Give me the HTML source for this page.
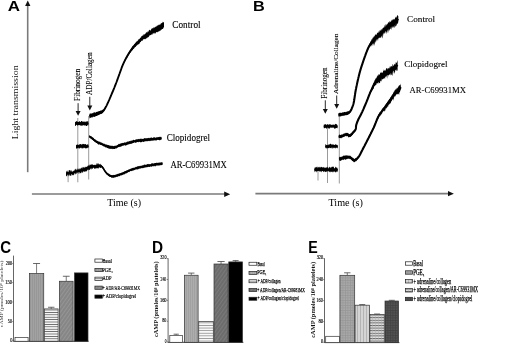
<!DOCTYPE html>
<html><head><meta charset="utf-8"><style>
html,body{margin:0;padding:0;background:#fff;overflow:hidden;}
svg{display:block;will-change:transform;filter:blur(0.3px);}
</style></head><body>
<svg width="520" height="345" viewBox="0 0 520 345">
<defs>
<pattern id="pv" width="2" height="4" patternUnits="userSpaceOnUse"><rect width="2" height="4" fill="#a2a2a2"/><rect width="0.7" height="4" fill="#939393"/></pattern>
<pattern id="pvD" width="2" height="4" patternUnits="userSpaceOnUse"><rect width="2" height="4" fill="#adadad"/><rect width="0.7" height="4" fill="#9c9c9c"/></pattern>
<pattern id="ph" width="4" height="2.4" patternUnits="userSpaceOnUse"><rect width="4" height="2.4" fill="#f6f6f6"/><rect y="0" width="4" height="0.8" fill="#5e5e5e"/></pattern>
<pattern id="phD" width="4" height="2.6" patternUnits="userSpaceOnUse"><rect width="4" height="2.6" fill="#f8f8f8"/><rect y="0" width="4" height="0.7" fill="#808080"/></pattern>
<pattern id="pd" width="3" height="3" patternUnits="userSpaceOnUse" patternTransform="rotate(35)"><rect width="3" height="3" fill="#868686"/><rect width="0.8" height="3" fill="#999"/></pattern>
<pattern id="pdD" width="3" height="3" patternUnits="userSpaceOnUse" patternTransform="rotate(35)"><rect width="3" height="3" fill="#6c6c6c"/><rect width="0.6" height="3" fill="#848484"/></pattern>
<pattern id="pgE" width="2.5" height="2.5" patternUnits="userSpaceOnUse"><rect width="2.5" height="2.5" fill="#a8a8a8"/><rect width="0.6" height="2.5" fill="#949494"/><rect width="2.5" height="0.6" fill="#949494"/></pattern>
<pattern id="pvE" width="3" height="4" patternUnits="userSpaceOnUse"><rect width="3" height="4" fill="#d4d4d4"/><rect width="0.8" height="4" fill="#acacac"/></pattern>
<pattern id="phE" width="3" height="2.6" patternUnits="userSpaceOnUse"><rect width="3" height="2.6" fill="#e0e0e0"/><rect width="3" height="1.0" fill="#6a6a6a"/><rect width="0.5" height="2.6" fill="#b0b0b0"/></pattern>
<pattern id="pkE" width="2.5" height="2.5" patternUnits="userSpaceOnUse"><rect width="2.5" height="2.5" fill="#525252"/><rect width="0.6" height="2.5" fill="#404040"/><rect width="2.5" height="0.6" fill="#404040"/></pattern>
</defs>
<rect width="520" height="345" fill="#fff"/>
<line x1="27.7" y1="5" x2="27.7" y2="172.2" stroke="#7a7a7a" stroke-width="1.6"/>
<path d="M25.1,6 L30.4,6 L27.75,0.4Z" fill="#111"/>
<line x1="31.9" y1="194" x2="225" y2="194" stroke="#7a7a7a" stroke-width="1.6"/>
<path d="M224.2,191.6 L224.2,196.9 L230.2,194.2Z" fill="#111"/>
<line x1="255.4" y1="193.6" x2="449" y2="193.6" stroke="#7a7a7a" stroke-width="1.6"/>
<path d="M448,191 L448,196.3 L453.9,193.7Z" fill="#111"/>
<line x1="68.1" y1="170" x2="68.1" y2="182.2" stroke="#9a9a9a" stroke-width="1.0"/>
<line x1="77.8" y1="118" x2="77.8" y2="182.3" stroke="#9a9a9a" stroke-width="1.0"/>
<line x1="88.7" y1="116" x2="88.7" y2="179.5" stroke="#9a9a9a" stroke-width="1.0"/>
<line x1="318" y1="168" x2="318" y2="180.5" stroke="#9a9a9a" stroke-width="1.0"/>
<line x1="327.5" y1="124" x2="327.5" y2="183" stroke="#9a9a9a" stroke-width="1.0"/>
<line x1="339.3" y1="113" x2="339.3" y2="183.5" stroke="#9a9a9a" stroke-width="1.0"/>
<line x1="78.1" y1="103.2" x2="78.1" y2="111.5" stroke="#111" stroke-width="0.9"/><path d="M75.6,111.0 L80.6,111.0 L78.1,115.8Z" fill="#111"/>
<line x1="89.8" y1="96.8" x2="89.8" y2="106.10000000000001" stroke="#111" stroke-width="0.9"/><path d="M87.3,105.60000000000001 L92.3,105.60000000000001 L89.8,110.4Z" fill="#111"/>
<line x1="325.3" y1="100.3" x2="325.3" y2="109.5" stroke="#111" stroke-width="0.9"/><path d="M322.8,109.0 L327.8,109.0 L325.3,113.8Z" fill="#111"/>
<line x1="336.7" y1="95.5" x2="336.7" y2="104.5" stroke="#111" stroke-width="0.9"/><path d="M334.2,104.0 L339.2,104.0 L336.7,108.8Z" fill="#111"/>
<path d="M75.00,123.60 L75.23,123.59 L75.51,123.57 L75.82,123.56 L76.18,123.54 L76.56,123.52 L76.98,123.49 L77.41,123.47 L77.87,123.44 L78.34,123.42 L78.81,123.40 L79.29,123.37 L79.77,123.35 L80.25,123.34 L80.71,123.32 L81.16,123.31 L81.59,123.30 L82.00,123.30 L82.43,123.30 L82.87,123.31 L83.33,123.32 L83.79,123.34 L84.26,123.36 L84.73,123.38 L85.19,123.41 L85.64,123.43 L86.08,123.46 L86.50,123.48 L86.89,123.51 L87.26,123.53 L87.60,123.55 L87.91,123.57 L88.18,123.59 L88.40,123.60" fill="none" stroke="#000" stroke-width="1.4" stroke-linejoin="round" stroke-linecap="butt"/><path d="M75.00,122.21 L75.23,122.03 L75.51,121.46 L75.82,122.32 L76.18,121.27 L76.56,121.31 L76.98,121.03 L77.41,121.51 L77.87,121.94 L78.34,121.91 L78.81,121.87 L79.29,121.53 L79.77,120.98 L80.25,121.88 L80.71,121.95 L81.16,121.11 L81.59,120.94 L82.00,121.28 L82.43,121.40 L82.87,121.77 L83.33,121.88 L83.79,121.20 L84.26,121.45 L84.73,121.63 L85.19,122.14 L85.64,121.40 L86.08,121.55 L86.50,121.53 L86.89,121.59 L87.26,121.69 L87.60,121.01 L87.91,121.22 L88.18,121.26 L88.40,121.80 L88.40,124.88 L88.18,125.51 L87.91,126.01 L87.60,124.76 L87.26,125.11 L86.89,126.04 L86.50,125.89 L86.08,126.03 L85.64,125.18 L85.19,125.59 L84.73,125.27 L84.26,125.65 L83.79,125.06 L83.33,125.29 L82.87,125.63 L82.43,125.33 L82.00,125.74 L81.59,125.44 L81.16,125.82 L80.71,124.99 L80.25,125.93 L79.77,125.33 L79.29,124.98 L78.81,124.92 L78.34,125.23 L77.87,125.23 L77.41,125.98 L76.98,124.73 L76.56,125.04 L76.18,124.74 L75.82,125.93 L75.51,125.88 L75.23,125.48 L75.00,125.99Z" fill="#000"/>
<path d="M89.40,116.00 L89.63,115.94 L89.91,115.86 L90.23,115.77 L90.60,115.67 L90.99,115.57 L91.42,115.45 L91.86,115.33 L92.32,115.21 L92.78,115.08 L93.25,114.94 L93.72,114.81 L94.17,114.68 L94.60,114.55 L95.02,114.42 L95.40,114.30 L95.82,114.16 L96.24,114.02 L96.66,113.87 L97.08,113.72 L97.49,113.57 L97.89,113.42 L98.28,113.27 L98.67,113.12 L99.04,112.97 L99.40,112.82 L99.75,112.68 L100.08,112.54 L100.40,112.40 L100.87,112.20 L101.30,112.04 L101.69,111.88 L102.06,111.73 L102.40,111.56 L102.73,111.36 L103.06,111.11 L103.40,110.80 L103.65,110.53 L103.88,110.24 L104.12,109.92 L104.34,109.58 L104.56,109.22 L104.79,108.85 L105.00,108.46 L105.22,108.06 L105.45,107.64 L105.67,107.23 L105.90,106.80 L106.08,106.46 L106.27,106.11 L106.45,105.75 L106.64,105.38 L106.82,105.00 L107.01,104.62 L107.19,104.23 L107.38,103.83 L107.57,103.43 L107.75,103.03 L107.94,102.62 L108.13,102.22 L108.31,101.81 L108.50,101.40 L108.66,101.04 L108.83,100.67 L108.99,100.30 L109.16,99.92 L109.33,99.54 L109.49,99.16 L109.66,98.77 L109.83,98.39 L109.99,98.00 L110.15,97.62 L110.32,97.24 L110.48,96.86 L110.64,96.48 L110.79,96.12 L110.95,95.75 L111.10,95.40 L111.27,95.00 L111.44,94.61 L111.60,94.23 L111.76,93.85 L111.92,93.48 L112.08,93.10 L112.24,92.74 L112.39,92.37 L112.55,92.01 L112.70,91.65 L112.85,91.29 L113.00,90.93 L113.15,90.56 L113.30,90.20 L113.46,89.81 L113.62,89.42 L113.78,89.03 L113.93,88.65 L114.09,88.26 L114.24,87.88 L114.40,87.50 L114.55,87.11 L114.70,86.73 L114.85,86.35 L115.00,85.97 L115.15,85.58 L115.30,85.20 L115.45,84.82 L115.60,84.43 L115.75,84.05 L115.90,83.66 L116.04,83.28 L116.19,82.89 L116.34,82.51 L116.48,82.12 L116.63,81.74 L116.77,81.35 L116.91,80.97 L117.06,80.58 L117.20,80.20 L117.34,79.82 L117.48,79.43 L117.62,79.05 L117.76,78.66 L117.90,78.28 L118.04,77.89 L118.17,77.51 L118.31,77.12 L118.45,76.74 L118.59,76.35 L118.72,75.97 L118.86,75.58 L119.00,75.20 L119.14,74.81 L119.28,74.43 L119.42,74.04 L119.55,73.65 L119.69,73.27 L119.83,72.88 L119.97,72.49 L120.11,72.11 L120.25,71.72 L120.38,71.34 L120.52,70.96 L120.66,70.58 L120.80,70.20 L120.95,69.80 L121.09,69.41 L121.22,69.02 L121.36,68.64 L121.49,68.26 L121.62,67.88 L121.76,67.50 L121.91,67.10 L122.07,66.70 L122.23,66.28 L122.41,65.85 L122.60,65.40 L122.74,65.07 L122.89,64.73 L123.04,64.39 L123.20,64.04 L123.36,63.68 L123.52,63.32 L123.69,62.96 L123.86,62.59 L124.04,62.21 L124.22,61.83 L124.40,61.45 L124.59,61.06 L124.79,60.68 L124.98,60.28 L125.18,59.89 L125.39,59.50 L125.60,59.10 L125.78,58.76 L125.97,58.41 L126.16,58.05 L126.36,57.69 L126.56,57.33 L126.77,56.96 L126.97,56.59 L127.18,56.21 L127.40,55.84 L127.61,55.46 L127.83,55.09 L128.05,54.72 L128.27,54.34 L128.49,53.98 L128.71,53.62 L128.93,53.26 L129.15,52.91 L129.37,52.56 L129.58,52.23 L129.80,51.90 L130.04,51.54 L130.29,51.19 L130.53,50.83 L130.79,50.48 L131.04,50.14 L131.29,49.80 L131.55,49.46 L131.80,49.13 L132.06,48.80 L132.31,48.48 L132.56,48.17 L132.81,47.86 L133.05,47.56 L133.29,47.27 L133.53,46.99 L133.76,46.72 L133.98,46.45 L134.20,46.20 L134.53,45.82 L134.84,45.50 L135.12,45.21 L135.39,44.94 L135.65,44.70 L135.91,44.46 L136.18,44.22 L136.47,43.96 L136.78,43.68 L137.12,43.36 L137.50,43.00 L137.74,42.77 L137.98,42.52 L138.23,42.26 L138.49,42.00 L138.75,41.72 L139.02,41.44 L139.30,41.15 L139.58,40.85 L139.87,40.55 L140.17,40.25 L140.47,39.94 L140.77,39.64 L141.08,39.34 L141.39,39.03 L141.71,38.74 L142.02,38.44 L142.35,38.15 L142.67,37.87 L143.00,37.60 L143.31,37.36 L143.62,37.11 L143.95,36.86 L144.30,36.61 L144.65,36.36 L145.00,36.11 L145.36,35.86 L145.73,35.61 L146.09,35.36 L146.46,35.12 L146.83,34.88 L147.19,34.64 L147.54,34.41 L147.89,34.19 L148.23,33.96 L148.56,33.75 L148.88,33.54 L149.19,33.34 L149.48,33.15 L149.75,32.97 L150.00,32.80 L150.51,32.44 L150.94,32.13 L151.30,31.87 L151.61,31.64 L151.89,31.43 L152.17,31.23 L152.47,31.03 L152.80,30.83 L153.20,30.60 L153.54,30.42 L153.90,30.24 L154.28,30.06 L154.68,29.89 L155.09,29.71 L155.50,29.53 L155.91,29.36 L156.32,29.18 L156.72,29.01 L157.10,28.84 L157.46,28.67 L157.80,28.50 L158.22,28.28 L158.62,28.05 L159.00,27.83 L159.37,27.61 L159.72,27.40 L160.05,27.19 L160.38,26.98 L160.69,26.79 L161.00,26.60 L161.46,26.32 L161.92,26.04 L162.35,25.78 L162.74,25.54 L163.06,25.35 L163.30,25.20" fill="none" stroke="#000" stroke-width="1.9" stroke-linejoin="round" stroke-linecap="butt"/><path d="M89.40,113.37 L89.63,114.34 L89.91,113.59 L90.23,113.58 L90.60,113.70 L90.99,112.97 L91.42,113.48 L91.86,113.83 L92.32,113.33 L92.78,113.02 L93.25,113.15 L93.72,112.34 L94.17,112.34 L94.60,112.21 L95.02,112.63 L95.40,112.70 L95.82,112.29 L96.24,111.74 L96.66,112.12 L97.08,111.89 L97.49,111.52 L97.89,111.72 L98.28,111.10 L98.67,111.45 L99.04,111.15 L99.40,110.95 L99.75,110.88 L100.08,111.07 L100.40,110.32 L100.87,110.76 L101.30,110.48 L101.69,110.13 L102.06,110.20 L102.40,109.70 L102.73,109.87 L103.06,109.15 L103.40,109.57 L103.65,109.32 L103.88,108.99 L104.12,108.91 L104.34,108.39 L104.56,108.30 L104.79,107.76 L105.00,107.47 L105.22,107.34 L105.45,107.12 L105.67,106.45 L105.90,106.42 L106.08,105.77 L106.27,105.76 L106.45,105.58 L106.64,105.19 L106.82,104.59 L107.01,103.89 L107.19,103.99 L107.38,103.23 L107.57,103.08 L107.75,102.94 L107.94,102.07 L108.13,102.03 L108.31,101.39 L108.50,100.90 L108.66,100.33 L108.83,100.27 L108.99,99.96 L109.16,99.80 L109.33,99.13 L109.49,98.90 L109.66,98.71 L109.83,98.12 L109.99,97.94 L110.15,97.23 L110.32,97.14 L110.48,96.15 L110.64,96.30 L110.79,95.74 L110.95,95.62 L111.10,94.75 L111.27,94.46 L111.44,94.01 L111.60,93.93 L111.76,93.62 L111.92,92.74 L112.08,92.46 L112.24,92.35 L112.39,91.84 L112.55,91.37 L112.70,90.88 L112.85,91.21 L113.00,90.16 L113.15,90.32 L113.30,89.66 L113.46,89.70 L113.62,88.83 L113.78,88.47 L113.93,88.28 L114.09,87.48 L114.24,87.75 L114.40,87.02 L114.55,86.71 L114.70,86.17 L114.85,85.97 L115.00,85.37 L115.15,84.91 L115.30,84.88 L115.45,84.31 L115.60,83.86 L115.75,83.39 L115.90,83.08 L116.04,82.57 L116.19,82.28 L116.34,82.04 L116.48,82.02 L116.63,81.54 L116.77,81.19 L116.91,80.97 L117.06,80.06 L117.20,79.66 L117.34,79.41 L117.48,78.82 L117.62,78.41 L117.76,78.02 L117.90,78.16 L118.04,77.66 L118.17,76.72 L118.31,76.82 L118.45,76.50 L118.59,75.92 L118.72,75.30 L118.86,74.93 L119.00,74.51 L119.14,74.51 L119.28,73.77 L119.42,73.87 L119.55,73.45 L119.69,72.59 L119.83,72.64 L119.97,72.38 L120.11,71.36 L120.25,71.18 L120.38,71.25 L120.52,70.35 L120.66,69.85 L120.80,69.60 L120.95,69.44 L121.09,68.89 L121.22,68.28 L121.36,67.72 L121.49,67.90 L121.62,67.44 L121.76,66.51 L121.91,66.16 L122.07,66.43 L122.23,65.79 L122.41,64.97 L122.60,64.98 L122.74,64.59 L122.89,64.21 L123.04,64.01 L123.20,63.39 L123.36,63.18 L123.52,62.72 L123.69,62.60 L123.86,61.87 L124.04,61.39 L124.22,60.76 L124.40,60.14 L124.59,60.09 L124.79,59.71 L124.98,58.93 L125.18,59.02 L125.39,58.99 L125.60,58.50 L125.78,57.38 L125.97,57.12 L126.16,57.18 L126.36,56.49 L126.56,56.12 L126.77,56.12 L126.97,55.83 L127.18,55.37 L127.40,54.65 L127.61,54.63 L127.83,54.26 L128.05,53.92 L128.27,52.96 L128.49,52.47 L128.71,52.65 L128.93,51.79 L129.15,51.75 L129.37,51.28 L129.58,50.74 L129.80,50.17 L130.04,49.85 L130.29,50.19 L130.53,49.64 L130.79,48.79 L131.04,48.58 L131.29,47.82 L131.55,48.33 L131.80,47.30 L132.06,46.57 L132.31,46.80 L132.56,46.05 L132.81,45.63 L133.05,45.88 L133.29,45.28 L133.53,45.45 L133.76,45.08 L133.98,44.57 L134.20,44.00 L134.53,44.00 L134.84,43.62 L135.12,43.30 L135.39,42.90 L135.65,42.59 L135.91,42.32 L136.18,41.97 L136.47,41.49 L136.78,41.14 L137.12,41.52 L137.50,41.10 L137.74,40.19 L137.98,40.87 L138.23,40.27 L138.49,39.24 L138.75,39.10 L139.02,39.49 L139.30,39.31 L139.58,38.45 L139.87,38.64 L140.17,37.71 L140.47,37.78 L140.77,37.47 L141.08,37.41 L141.39,36.21 L141.71,36.11 L142.02,36.21 L142.35,35.74 L142.67,35.34 L143.00,35.61 L143.31,35.49 L143.62,34.61 L143.95,33.71 L144.30,34.79 L144.65,34.44 L145.00,33.65 L145.36,33.60 L145.73,33.71 L146.09,32.10 L146.46,31.92 L146.83,33.08 L147.19,32.86 L147.54,31.46 L147.89,31.50 L148.23,31.47 L148.56,31.85 L148.88,30.35 L149.19,30.01 L149.48,30.00 L149.75,29.61 L150.00,30.82 L150.51,30.56 L150.94,29.79 L151.30,29.13 L151.61,28.23 L151.89,28.78 L152.17,28.39 L152.47,28.42 L152.80,27.86 L153.20,28.50 L153.54,27.35 L153.90,27.39 L154.28,27.39 L154.68,27.63 L155.09,26.42 L155.50,27.13 L155.91,26.53 L156.32,26.87 L156.72,25.66 L157.10,25.99 L157.46,25.12 L157.80,25.73 L158.22,25.25 L158.62,25.12 L159.00,24.25 L159.37,24.64 L159.72,24.87 L160.05,25.04 L160.38,24.37 L160.69,23.46 L161.00,23.69 L161.46,23.03 L161.92,22.95 L162.35,23.07 L162.74,22.99 L163.06,23.12 L163.30,23.16 L163.30,28.26 L163.06,28.79 L162.74,29.00 L162.35,28.89 L161.92,28.66 L161.46,30.18 L161.00,29.54 L160.69,30.31 L160.38,30.92 L160.05,30.59 L159.72,30.75 L159.37,31.26 L159.00,31.49 L158.62,31.15 L158.22,31.84 L157.80,32.45 L157.46,31.96 L157.10,31.77 L156.72,32.04 L156.32,32.35 L155.91,32.61 L155.50,33.96 L155.09,32.66 L154.68,34.09 L154.28,32.69 L153.90,32.65 L153.54,34.27 L153.20,33.07 L152.80,33.23 L152.47,35.12 L152.17,34.08 L151.89,35.04 L151.61,33.82 L151.30,34.71 L150.94,35.09 L150.51,35.14 L150.00,35.07 L149.75,35.27 L149.48,36.56 L149.19,35.27 L148.88,36.51 L148.56,37.47 L148.23,37.07 L147.89,37.06 L147.54,37.60 L147.19,38.37 L146.83,37.68 L146.46,38.40 L146.09,38.51 L145.73,38.63 L145.36,39.19 L145.00,39.35 L144.65,38.71 L144.30,39.39 L143.95,38.78 L143.62,39.85 L143.31,39.25 L143.00,39.33 L142.67,40.72 L142.35,40.71 L142.02,40.85 L141.71,40.51 L141.39,40.93 L141.08,41.30 L140.77,41.94 L140.47,42.22 L140.17,42.04 L139.87,42.43 L139.58,43.40 L139.30,43.68 L139.02,44.31 L138.75,44.50 L138.49,44.38 L138.23,43.84 L137.98,44.20 L137.74,44.25 L137.50,45.03 L137.12,45.13 L136.78,45.34 L136.47,45.74 L136.18,45.99 L135.91,46.66 L135.65,47.13 L135.39,46.66 L135.12,46.76 L134.84,47.10 L134.53,47.66 L134.20,48.30 L133.98,48.81 L133.76,48.59 L133.53,49.29 L133.29,48.62 L133.05,49.60 L132.81,49.70 L132.56,50.14 L132.31,49.96 L132.06,51.05 L131.80,50.85 L131.55,50.76 L131.29,51.79 L131.04,51.23 L130.79,52.31 L130.53,52.45 L130.29,52.74 L130.04,53.23 L129.80,53.86 L129.58,53.62 L129.37,54.27 L129.15,54.20 L128.93,54.30 L128.71,54.53 L128.49,55.28 L128.27,55.97 L128.05,55.67 L127.83,55.91 L127.61,56.64 L127.40,57.18 L127.18,57.76 L126.97,57.70 L126.77,58.03 L126.56,57.95 L126.36,58.34 L126.16,58.76 L125.97,58.93 L125.78,59.33 L125.60,60.48 L125.39,60.06 L125.18,60.73 L124.98,61.65 L124.79,61.64 L124.59,61.75 L124.40,62.19 L124.22,62.76 L124.04,63.34 L123.86,63.63 L123.69,63.40 L123.52,63.96 L123.36,64.18 L123.20,64.53 L123.04,64.82 L122.89,65.81 L122.74,65.87 L122.60,66.36 L122.41,66.44 L122.23,67.29 L122.07,66.88 L121.91,67.41 L121.76,67.94 L121.62,68.35 L121.49,68.92 L121.36,69.40 L121.22,69.77 L121.09,70.08 L120.95,70.63 L120.80,70.59 L120.66,70.81 L120.52,71.30 L120.38,71.55 L120.25,72.52 L120.11,72.89 L119.97,72.84 L119.83,72.92 L119.69,73.56 L119.55,74.45 L119.42,74.41 L119.28,74.94 L119.14,75.24 L119.00,75.25 L118.86,76.11 L118.72,76.20 L118.59,77.10 L118.45,77.26 L118.31,77.48 L118.17,77.80 L118.04,77.88 L117.90,78.58 L117.76,79.36 L117.62,79.37 L117.48,79.56 L117.34,79.83 L117.20,80.46 L117.06,81.19 L116.91,81.36 L116.77,82.13 L116.63,82.19 L116.48,82.61 L116.34,82.66 L116.19,83.05 L116.04,83.36 L115.90,84.15 L115.75,84.06 L115.60,85.13 L115.45,84.83 L115.30,85.73 L115.15,85.77 L115.00,86.49 L114.85,87.11 L114.70,87.47 L114.55,87.50 L114.40,88.19 L114.24,88.23 L114.09,88.88 L113.93,89.20 L113.78,89.25 L113.62,89.51 L113.46,90.24 L113.30,90.55 L113.15,90.76 L113.00,91.44 L112.85,91.38 L112.70,91.78 L112.55,92.11 L112.39,93.08 L112.24,92.96 L112.08,93.36 L111.92,94.10 L111.76,94.27 L111.60,94.60 L111.44,95.18 L111.27,95.06 L111.10,95.90 L110.95,95.88 L110.79,96.70 L110.64,96.93 L110.48,96.96 L110.32,97.48 L110.15,97.81 L109.99,98.37 L109.83,99.02 L109.66,99.30 L109.49,99.89 L109.33,100.23 L109.16,100.53 L108.99,100.72 L108.83,101.13 L108.66,101.60 L108.50,101.61 L108.31,102.18 L108.13,102.44 L107.94,102.85 L107.75,103.37 L107.57,103.85 L107.38,104.37 L107.19,104.68 L107.01,104.84 L106.82,105.71 L106.64,105.52 L106.45,105.86 L106.27,106.20 L106.08,106.71 L105.90,107.25 L105.67,107.53 L105.45,108.04 L105.22,108.62 L105.00,109.51 L104.79,109.92 L104.56,109.96 L104.34,110.85 L104.12,110.86 L103.88,111.28 L103.65,111.76 L103.40,112.17 L103.06,112.48 L102.73,113.18 L102.40,112.97 L102.06,113.72 L101.69,113.87 L101.30,114.05 L100.87,114.07 L100.40,113.94 L100.08,114.56 L99.75,114.80 L99.40,114.48 L99.04,114.80 L98.67,115.31 L98.28,114.91 L97.89,115.43 L97.49,115.42 L97.08,115.65 L96.66,116.09 L96.24,115.91 L95.82,116.09 L95.40,116.46 L95.02,116.81 L94.60,116.75 L94.17,116.93 L93.72,116.95 L93.25,116.55 L92.78,116.79 L92.32,117.63 L91.86,117.31 L91.42,117.23 L90.99,118.11 L90.60,117.61 L90.23,117.93 L89.91,117.71 L89.63,118.41 L89.40,118.62Z" fill="#000"/>
<path d="M161.6,27.5 L162.6,21.8 L164.0,22.4 L164.0,27.6Z" fill="#000"/>
<path d="M76.00,146.40 L76.22,146.39 L76.50,146.38 L76.81,146.37 L77.16,146.35 L77.54,146.33 L77.94,146.32 L78.37,146.30 L78.82,146.28 L79.28,146.26 L79.74,146.24 L80.21,146.23 L80.67,146.22 L81.13,146.21 L81.57,146.20 L82.00,146.20 L82.40,146.20 L82.83,146.21 L83.28,146.22 L83.74,146.23 L84.21,146.24 L84.69,146.25 L85.16,146.27 L85.62,146.29 L86.08,146.30 L86.52,146.32 L86.93,146.34 L87.32,146.35 L87.68,146.37 L88.00,146.38 L88.27,146.39 L88.50,146.40" fill="none" stroke="#000" stroke-width="1.4" stroke-linejoin="round" stroke-linecap="butt"/><path d="M76.00,144.97 L76.22,144.45 L76.50,145.26 L76.81,144.94 L77.16,144.08 L77.54,145.02 L77.94,144.48 L78.37,145.11 L78.82,144.76 L79.28,144.50 L79.74,144.14 L80.21,144.01 L80.67,143.89 L81.13,144.80 L81.57,144.22 L82.00,144.56 L82.40,144.28 L82.83,143.81 L83.28,144.18 L83.74,143.78 L84.21,144.14 L84.69,144.35 L85.16,143.98 L85.62,144.07 L86.08,144.79 L86.52,145.16 L86.93,144.23 L87.32,143.88 L87.68,144.84 L88.00,145.24 L88.27,144.44 L88.50,144.09 L88.50,147.94 L88.27,147.71 L88.00,147.76 L87.68,147.58 L87.32,148.16 L86.93,147.90 L86.52,148.28 L86.08,148.48 L85.62,147.96 L85.16,148.76 L84.69,147.75 L84.21,147.64 L83.74,148.59 L83.28,147.54 L82.83,148.51 L82.40,148.57 L82.00,147.79 L81.57,147.72 L81.13,148.66 L80.67,147.45 L80.21,147.95 L79.74,148.63 L79.28,148.37 L78.82,147.42 L78.37,148.46 L77.94,148.45 L77.54,148.32 L77.16,148.12 L76.81,148.86 L76.50,148.65 L76.22,148.37 L76.00,148.26Z" fill="#000"/>
<path d="M89.20,136.30 L89.40,136.45 L89.65,136.63 L89.94,136.84 L90.27,137.08 L90.62,137.34 L91.00,137.62 L91.39,137.91 L91.79,138.20 L92.19,138.49 L92.58,138.77 L92.95,139.04 L93.30,139.30 L93.63,139.55 L93.96,139.80 L94.29,140.05 L94.61,140.31 L94.94,140.56 L95.26,140.81 L95.59,141.06 L95.92,141.30 L96.25,141.54 L96.59,141.77 L96.94,141.99 L97.30,142.20 L97.67,142.40 L98.05,142.59 L98.44,142.77 L98.83,142.94 L99.23,143.11 L99.63,143.27 L100.04,143.43 L100.44,143.58 L100.84,143.74 L101.23,143.89 L101.62,144.04 L102.00,144.20 L102.41,144.37 L102.81,144.55 L103.21,144.72 L103.60,144.90 L103.99,145.07 L104.38,145.24 L104.76,145.41 L105.14,145.56 L105.51,145.72 L105.88,145.86 L106.25,146.00 L106.69,146.16 L107.12,146.31 L107.54,146.45 L107.95,146.58 L108.36,146.70 L108.77,146.82 L109.18,146.92 L109.59,147.02 L110.00,147.10 L110.42,147.17 L110.84,147.24 L111.27,147.30 L111.69,147.35 L112.12,147.39 L112.54,147.41 L112.95,147.42 L113.36,147.42 L113.75,147.40 L114.18,147.36 L114.60,147.29 L115.02,147.21 L115.42,147.11 L115.82,146.99 L116.22,146.87 L116.61,146.74 L117.00,146.60 L117.36,146.46 L117.66,146.30 L117.95,146.14 L118.23,145.97 L118.56,145.79 L118.94,145.60 L119.41,145.40 L120.00,145.20 L120.29,145.11 L120.60,145.02 L120.93,144.93 L121.28,144.84 L121.65,144.74 L122.04,144.64 L122.43,144.55 L122.84,144.45 L123.26,144.34 L123.68,144.24 L124.11,144.14 L124.54,144.04 L124.98,143.93 L125.41,143.83 L125.84,143.72 L126.27,143.62 L126.69,143.51 L127.10,143.41 L127.50,143.30 L127.89,143.19 L128.28,143.08 L128.67,142.97 L129.06,142.85 L129.44,142.74 L129.83,142.62 L130.21,142.50 L130.59,142.38 L130.98,142.26 L131.37,142.14 L131.75,142.02 L132.14,141.91 L132.54,141.80 L132.94,141.69 L133.34,141.58 L133.75,141.48 L134.16,141.38 L134.58,141.29 L135.00,141.20 L135.37,141.13 L135.75,141.06 L136.13,141.00 L136.51,140.94 L136.90,140.88 L137.30,140.83 L137.69,140.77 L138.09,140.72 L138.49,140.67 L138.89,140.63 L139.30,140.58 L139.70,140.54 L140.11,140.49 L140.52,140.45 L140.92,140.41 L141.33,140.37 L141.74,140.32 L142.14,140.28 L142.55,140.24 L142.95,140.19 L143.35,140.15 L143.75,140.10 L144.15,140.05 L144.54,140.00 L144.94,139.96 L145.34,139.91 L145.73,139.86 L146.13,139.81 L146.53,139.77 L146.92,139.72 L147.32,139.67 L147.71,139.63 L148.11,139.58 L148.51,139.54 L148.90,139.49 L149.30,139.44 L149.70,139.40 L150.10,139.36 L150.49,139.31 L150.89,139.27 L151.29,139.23 L151.70,139.18 L152.10,139.14 L152.50,139.10 L152.91,139.06 L153.34,139.02 L153.79,138.97 L154.24,138.93 L154.71,138.89 L155.18,138.85 L155.66,138.80 L156.13,138.76 L156.61,138.72 L157.08,138.68 L157.55,138.64 L158.00,138.60 L158.45,138.56 L158.88,138.52 L159.29,138.49 L159.69,138.46 L160.06,138.42 L160.41,138.39 L160.73,138.37 L161.02,138.34 L161.28,138.32 L161.50,138.30" fill="none" stroke="#000" stroke-width="1.6" stroke-linejoin="round" stroke-linecap="butt"/><path d="M89.20,135.33 L89.40,135.55 L89.65,135.04 L89.94,135.87 L90.27,136.15 L90.62,135.73 L91.00,136.11 L91.39,136.55 L91.79,136.60 L92.19,137.07 L92.58,137.53 L92.95,137.44 L93.30,137.65 L93.63,137.95 L93.96,138.42 L94.29,138.93 L94.61,139.41 L94.94,139.22 L95.26,139.05 L95.59,140.01 L95.92,140.11 L96.25,140.16 L96.59,140.83 L96.94,140.54 L97.30,141.14 L97.67,140.86 L98.05,141.01 L98.44,141.59 L98.83,141.64 L99.23,141.44 L99.63,141.93 L100.04,141.61 L100.44,142.59 L100.84,142.46 L101.23,142.05 L101.62,143.04 L102.00,142.64 L102.41,142.98 L102.81,143.48 L103.21,143.40 L103.60,143.73 L103.99,143.74 L104.38,143.54 L104.76,144.22 L105.14,144.40 L105.51,144.71 L105.88,144.01 L106.25,144.45 L106.69,144.75 L107.12,144.56 L107.54,145.18 L107.95,145.04 L108.36,145.15 L108.77,145.02 L109.18,145.08 L109.59,146.01 L110.00,145.26 L110.42,146.06 L110.84,145.60 L111.27,146.33 L111.69,145.59 L112.12,145.71 L112.54,145.65 L112.95,146.15 L113.36,146.02 L113.75,146.40 L114.18,145.61 L114.60,145.99 L115.02,146.22 L115.42,146.05 L115.82,145.31 L116.22,145.45 L116.61,145.66 L117.00,145.16 L117.36,144.78 L117.66,145.15 L117.95,144.78 L118.23,144.20 L118.56,144.36 L118.94,143.80 L119.41,144.14 L120.00,143.57 L120.29,143.91 L120.60,143.35 L120.93,143.34 L121.28,143.03 L121.65,143.48 L122.04,143.11 L122.43,142.86 L122.84,143.34 L123.26,142.63 L123.68,142.92 L124.11,142.59 L124.54,142.20 L124.98,142.65 L125.41,142.82 L125.84,142.01 L126.27,142.48 L126.69,142.00 L127.10,141.54 L127.50,141.70 L127.89,141.45 L128.28,141.72 L128.67,141.34 L129.06,141.56 L129.44,140.93 L129.83,140.88 L130.21,141.49 L130.59,140.75 L130.98,140.40 L131.37,141.08 L131.75,140.19 L132.14,140.82 L132.54,139.96 L132.94,140.55 L133.34,139.72 L133.75,139.86 L134.16,140.14 L134.58,140.19 L135.00,140.08 L135.37,139.86 L135.75,139.40 L136.13,139.20 L136.51,139.30 L136.90,139.42 L137.30,139.38 L137.69,138.97 L138.09,139.10 L138.49,139.31 L138.89,138.82 L139.30,139.43 L139.70,138.78 L140.11,139.05 L140.52,138.69 L140.92,138.56 L141.33,138.59 L141.74,139.21 L142.14,138.99 L142.55,138.68 L142.95,138.94 L143.35,138.85 L143.75,138.77 L144.15,138.23 L144.54,138.35 L144.94,138.04 L145.34,138.24 L145.73,138.30 L146.13,138.72 L146.53,138.11 L146.92,137.95 L147.32,137.89 L147.71,138.58 L148.11,138.12 L148.51,137.70 L148.90,138.19 L149.30,138.38 L149.70,137.69 L150.10,137.70 L150.49,137.89 L150.89,137.44 L151.29,137.51 L151.70,137.39 L152.10,137.88 L152.50,137.83 L152.91,137.90 L153.34,137.09 L153.79,137.75 L154.24,137.09 L154.71,137.54 L155.18,137.66 L155.66,137.66 L156.13,137.21 L156.61,137.61 L157.08,136.99 L157.55,137.43 L158.00,137.26 L158.45,136.97 L158.88,137.32 L159.29,136.58 L159.69,137.36 L160.06,136.77 L160.41,137.17 L160.73,136.83 L161.02,136.62 L161.28,137.24 L161.50,137.04 L161.50,139.87 L161.28,139.51 L161.02,140.15 L160.73,139.90 L160.41,139.57 L160.06,140.23 L159.69,140.32 L159.29,140.15 L158.88,139.76 L158.45,139.93 L158.00,139.94 L157.55,139.87 L157.08,139.75 L156.61,140.52 L156.13,140.40 L155.66,140.72 L155.18,140.11 L154.71,140.34 L154.24,140.42 L153.79,140.85 L153.34,140.20 L152.91,140.78 L152.50,140.39 L152.10,140.64 L151.70,140.51 L151.29,140.63 L150.89,141.14 L150.49,140.50 L150.10,141.10 L149.70,141.21 L149.30,140.85 L148.90,140.87 L148.51,141.24 L148.11,140.74 L147.71,141.32 L147.32,141.26 L146.92,141.21 L146.53,140.90 L146.13,141.54 L145.73,141.11 L145.34,141.38 L144.94,141.30 L144.54,141.57 L144.15,141.87 L143.75,141.87 L143.35,141.97 L142.95,141.99 L142.55,141.29 L142.14,141.88 L141.74,141.90 L141.33,142.13 L140.92,142.27 L140.52,142.36 L140.11,142.16 L139.70,141.76 L139.30,141.74 L138.89,141.66 L138.49,142.07 L138.09,142.51 L137.69,142.01 L137.30,141.90 L136.90,142.03 L136.51,142.60 L136.13,142.66 L135.75,142.66 L135.37,142.94 L135.00,142.26 L134.58,142.32 L134.16,142.86 L133.75,142.98 L133.34,142.73 L132.94,142.90 L132.54,143.60 L132.14,143.14 L131.75,143.57 L131.37,144.02 L130.98,143.82 L130.59,143.93 L130.21,143.66 L129.83,143.87 L129.44,144.09 L129.06,144.42 L128.67,144.24 L128.28,144.62 L127.89,144.46 L127.50,144.97 L127.10,144.50 L126.69,145.35 L126.27,145.14 L125.84,145.44 L125.41,145.67 L124.98,145.19 L124.54,145.19 L124.11,145.21 L123.68,145.75 L123.26,145.49 L122.84,145.51 L122.43,145.86 L122.04,146.03 L121.65,146.51 L121.28,146.24 L120.93,146.46 L120.60,146.89 L120.29,146.86 L120.00,146.62 L119.41,146.88 L118.94,147.22 L118.56,147.07 L118.23,147.11 L117.95,147.84 L117.66,147.55 L117.36,147.50 L117.00,147.97 L116.61,148.27 L116.22,148.71 L115.82,148.25 L115.42,148.57 L115.02,148.94 L114.60,148.96 L114.18,148.88 L113.75,148.91 L113.36,148.87 L112.95,149.20 L112.54,148.56 L112.12,149.15 L111.69,148.42 L111.27,149.10 L110.84,149.04 L110.42,148.71 L110.00,148.67 L109.59,148.79 L109.18,148.75 L108.77,148.64 L108.36,148.29 L107.95,148.28 L107.54,148.00 L107.12,148.08 L106.69,147.20 L106.25,147.67 L105.88,147.19 L105.51,147.51 L105.14,147.31 L104.76,146.58 L104.38,146.65 L103.99,146.25 L103.60,146.22 L103.21,146.57 L102.81,145.98 L102.41,145.55 L102.00,145.29 L101.62,145.05 L101.23,145.22 L100.84,144.95 L100.44,144.68 L100.04,144.67 L99.63,144.33 L99.23,144.31 L98.83,144.72 L98.44,144.56 L98.05,144.37 L97.67,144.11 L97.30,143.51 L96.94,143.10 L96.59,142.86 L96.25,143.24 L95.92,142.85 L95.59,142.50 L95.26,141.85 L94.94,141.84 L94.61,141.72 L94.29,141.63 L93.96,141.03 L93.63,140.84 L93.30,140.64 L92.95,140.36 L92.58,139.67 L92.19,139.75 L91.79,139.08 L91.39,139.36 L91.00,138.58 L90.62,138.87 L90.27,137.95 L89.94,138.09 L89.65,138.11 L89.40,137.26 L89.20,137.15Z" fill="#000"/>
<path d="M66.00,173.60 L66.23,173.57 L66.50,173.54 L66.82,173.51 L67.17,173.47 L67.56,173.43 L67.97,173.39 L68.40,173.34 L68.85,173.29 L69.31,173.23 L69.78,173.17 L70.24,173.11 L70.70,173.04 L71.15,172.96 L71.59,172.88 L72.00,172.80 L72.40,172.71 L72.80,172.61 L73.20,172.50 L73.60,172.38 L74.00,172.26 L74.40,172.14 L74.80,172.01 L75.20,171.88 L75.60,171.75 L76.00,171.61 L76.40,171.48 L76.80,171.36 L77.20,171.23 L77.60,171.11 L78.00,171.00 L78.40,170.89 L78.80,170.79 L79.20,170.69 L79.60,170.60 L80.00,170.51 L80.40,170.42 L80.80,170.33 L81.20,170.24 L81.60,170.14 L82.00,170.05 L82.40,169.95 L82.80,169.85 L83.20,169.74 L83.60,169.62 L84.00,169.50 L84.38,169.38 L84.77,169.24 L85.17,169.10 L85.57,168.94 L85.98,168.79 L86.38,168.63 L86.79,168.46 L87.19,168.30 L87.58,168.14 L87.97,167.98 L88.35,167.83 L88.71,167.68 L89.06,167.54 L89.39,167.42 L89.71,167.30 L90.00,167.20 L90.58,167.01 L91.06,166.87 L91.47,166.77 L91.84,166.69 L92.19,166.62 L92.57,166.57 L93.00,166.50 L93.42,166.45 L93.85,166.40 L94.29,166.37 L94.74,166.34 L95.19,166.32 L95.63,166.29 L96.07,166.25 L96.50,166.20 L96.92,166.12 L97.33,166.02 L97.74,165.90 L98.15,165.79 L98.55,165.68 L98.94,165.61 L99.33,165.58 L99.70,165.60 L100.11,165.67 L100.49,165.77 L100.86,165.90 L101.22,166.09 L101.59,166.34 L101.98,166.67 L102.40,167.10 L102.61,167.34 L102.81,167.62 L103.03,167.93 L103.24,168.27 L103.46,168.63 L103.68,169.00 L103.91,169.39 L104.13,169.78 L104.36,170.18 L104.60,170.57 L104.83,170.95 L105.07,171.32 L105.31,171.67 L105.55,172.00 L105.80,172.30 L106.11,172.65 L106.43,172.99 L106.76,173.32 L107.09,173.64 L107.42,173.94 L107.76,174.23 L108.10,174.51 L108.44,174.76 L108.79,175.00 L109.13,175.22 L109.46,175.42 L109.80,175.60 L110.18,175.79 L110.53,175.96 L110.87,176.10 L111.20,176.22 L111.54,176.31 L111.90,176.38 L112.30,176.41 L112.74,176.41 L113.23,176.37 L113.80,176.30 L114.10,176.25 L114.41,176.19 L114.73,176.12 L115.07,176.05 L115.42,175.96 L115.78,175.86 L116.15,175.76 L116.53,175.65 L116.92,175.53 L117.31,175.41 L117.71,175.28 L118.12,175.14 L118.54,175.01 L118.95,174.86 L119.37,174.72 L119.79,174.57 L120.22,174.42 L120.64,174.26 L121.06,174.11 L121.48,173.95 L121.90,173.80 L122.25,173.67 L122.61,173.53 L122.97,173.38 L123.33,173.23 L123.70,173.08 L124.06,172.92 L124.43,172.75 L124.81,172.59 L125.18,172.42 L125.56,172.25 L125.94,172.07 L126.32,171.90 L126.70,171.73 L127.09,171.55 L127.47,171.38 L127.85,171.21 L128.24,171.04 L128.62,170.87 L129.01,170.70 L129.39,170.54 L129.78,170.38 L130.16,170.23 L130.54,170.08 L130.92,169.94 L131.30,169.80 L131.69,169.66 L132.08,169.53 L132.47,169.40 L132.86,169.27 L133.25,169.14 L133.64,169.02 L134.03,168.90 L134.41,168.78 L134.80,168.66 L135.19,168.55 L135.58,168.44 L135.97,168.33 L136.36,168.22 L136.75,168.11 L137.15,168.00 L137.54,167.90 L137.94,167.80 L138.34,167.70 L138.74,167.59 L139.15,167.49 L139.55,167.40 L139.97,167.30 L140.38,167.20 L140.80,167.10 L141.18,167.01 L141.55,166.93 L141.93,166.84 L142.32,166.76 L142.70,166.68 L143.09,166.60 L143.48,166.52 L143.87,166.44 L144.27,166.36 L144.66,166.29 L145.06,166.21 L145.46,166.14 L145.86,166.06 L146.26,165.99 L146.66,165.92 L147.06,165.84 L147.46,165.77 L147.87,165.70 L148.27,165.63 L148.67,165.57 L149.08,165.50 L149.48,165.43 L149.89,165.36 L150.29,165.30 L150.69,165.23 L151.10,165.17 L151.50,165.10 L151.91,165.03 L152.33,164.97 L152.77,164.90 L153.22,164.84 L153.67,164.77 L154.14,164.70 L154.60,164.64 L155.08,164.57 L155.55,164.51 L156.03,164.44 L156.50,164.38 L156.97,164.32 L157.44,164.26 L157.90,164.20 L158.35,164.14 L158.79,164.08 L159.22,164.02 L159.64,163.97 L160.04,163.92 L160.42,163.87 L160.79,163.82 L161.13,163.78 L161.46,163.74 L161.76,163.70 L162.03,163.66 L162.28,163.63 L162.50,163.60" fill="none" stroke="#000" stroke-width="1.6" stroke-linejoin="round" stroke-linecap="butt"/><path d="M66.00,171.31 L66.23,170.51 L66.50,172.67 L66.82,171.15 L67.17,171.54 L67.56,171.25 L67.97,171.91 L68.40,172.15 L68.85,171.01 L69.31,170.35 L69.78,170.02 L70.24,170.01 L70.70,171.74 L71.15,169.86 L71.59,171.21 L72.00,171.83 L72.40,171.88 L72.80,171.06 L73.20,170.93 L73.60,171.43 L74.00,169.68 L74.40,169.46 L74.80,171.16 L75.20,168.81 L75.60,168.74 L76.00,169.95 L76.40,170.40 L76.80,168.52 L77.20,170.19 L77.60,168.14 L78.00,168.90 L78.40,169.64 L78.80,168.35 L79.20,169.74 L79.60,168.82 L80.00,167.75 L80.40,169.44 L80.80,168.34 L81.20,167.70 L81.60,167.48 L82.00,168.85 L82.40,168.06 L82.80,166.75 L83.20,167.21 L83.60,167.84 L84.00,166.38 L84.38,167.38 L84.77,167.76 L85.17,167.41 L85.57,166.50 L85.98,167.10 L86.38,166.66 L86.79,166.93 L87.19,166.12 L87.58,166.70 L87.97,165.26 L88.35,166.17 L88.71,164.94 L89.06,164.71 L89.39,164.39 L89.71,166.05 L90.00,165.25 L90.58,164.50 L91.06,164.69 L91.47,164.49 L91.84,164.19 L92.19,164.76 L92.57,164.15 L93.00,164.56 L93.42,165.26 L93.85,165.09 L94.29,164.64 L94.74,164.93 L95.19,164.53 L95.63,165.14 L96.07,165.28 L96.50,164.10 L96.92,163.11 L97.33,163.33 L97.74,164.69 L98.15,162.83 L98.55,164.10 L98.94,164.54 L99.33,164.48 L99.70,164.15 L100.11,164.41 L100.49,163.62 L100.86,164.78 L101.22,164.83 L101.59,165.07 L101.98,165.82 L102.40,166.14 L102.61,166.62 L102.81,166.30 L103.03,167.07 L103.24,167.39 L103.46,167.53 L103.68,168.21 L103.91,168.34 L104.13,168.73 L104.36,168.98 L104.60,169.67 L104.83,169.65 L105.07,170.08 L105.31,170.47 L105.55,170.66 L105.80,170.99 L106.11,171.34 L106.43,171.75 L106.76,172.02 L107.09,172.51 L107.42,172.90 L107.76,172.88 L108.10,173.13 L108.44,173.88 L108.79,173.49 L109.13,173.80 L109.46,173.92 L109.80,174.51 L110.18,174.48 L110.53,174.63 L110.87,174.92 L111.20,174.90 L111.54,175.27 L111.90,175.01 L112.30,175.19 L112.74,175.34 L113.23,174.79 L113.80,175.16 L114.10,174.78 L114.41,175.07 L114.73,175.04 L115.07,175.02 L115.42,174.91 L115.78,174.30 L116.15,174.25 L116.53,174.65 L116.92,174.10 L117.31,173.77 L117.71,174.22 L118.12,174.02 L118.54,173.80 L118.95,173.32 L119.37,173.45 L119.79,173.19 L120.22,173.18 L120.64,173.16 L121.06,172.81 L121.48,172.66 L121.90,172.53 L122.25,172.60 L122.61,172.29 L122.97,172.24 L123.33,172.07 L123.70,172.10 L124.06,171.27 L124.43,171.45 L124.81,171.13 L125.18,170.92 L125.56,171.28 L125.94,170.82 L126.32,170.71 L126.70,170.22 L127.09,170.42 L127.47,169.94 L127.85,170.25 L128.24,169.77 L128.62,169.16 L129.01,169.68 L129.39,169.21 L129.78,169.25 L130.16,169.24 L130.54,168.90 L130.92,168.23 L131.30,168.54 L131.69,168.47 L132.08,167.85 L132.47,168.28 L132.86,167.94 L133.25,167.70 L133.64,167.83 L134.03,167.78 L134.41,167.77 L134.80,167.47 L135.19,167.41 L135.58,167.03 L135.97,166.81 L136.36,167.04 L136.75,166.83 L137.15,166.61 L137.54,166.33 L137.94,166.18 L138.34,166.15 L138.74,165.98 L139.15,166.51 L139.55,165.89 L139.97,165.72 L140.38,166.22 L140.80,165.44 L141.18,165.89 L141.55,165.72 L141.93,165.20 L142.32,165.38 L142.70,165.37 L143.09,165.57 L143.48,165.19 L143.87,164.84 L144.27,164.59 L144.66,164.65 L145.06,164.42 L145.46,164.79 L145.86,164.95 L146.26,164.57 L146.66,164.78 L147.06,164.04 L147.46,164.30 L147.87,164.04 L148.27,164.56 L148.67,163.83 L149.08,164.28 L149.48,163.94 L149.89,164.44 L150.29,164.21 L150.69,164.29 L151.10,163.81 L151.50,163.28 L151.91,163.48 L152.33,163.31 L152.77,163.36 L153.22,163.85 L153.67,163.31 L154.14,163.50 L154.60,163.05 L155.08,163.03 L155.55,162.94 L156.03,162.95 L156.50,162.61 L156.97,162.89 L157.44,162.97 L157.90,162.42 L158.35,162.86 L158.79,162.64 L159.22,162.25 L159.64,162.80 L160.04,162.85 L160.42,162.75 L160.79,162.10 L161.13,162.46 L161.46,161.94 L161.76,162.20 L162.03,162.73 L162.28,162.13 L162.50,162.11 L162.50,165.14 L162.28,164.71 L162.03,164.68 L161.76,165.56 L161.46,164.94 L161.13,165.10 L160.79,165.59 L160.42,164.83 L160.04,165.44 L159.64,165.48 L159.22,165.14 L158.79,165.68 L158.35,165.15 L157.90,165.98 L157.44,165.33 L156.97,165.60 L156.50,165.52 L156.03,165.55 L155.55,166.21 L155.08,166.39 L154.60,165.62 L154.14,166.49 L153.67,166.40 L153.22,165.83 L152.77,166.30 L152.33,166.22 L151.91,166.57 L151.50,166.77 L151.10,166.73 L150.69,166.43 L150.29,166.57 L149.89,166.75 L149.48,167.08 L149.08,167.04 L148.67,166.67 L148.27,166.64 L147.87,167.07 L147.46,167.05 L147.06,167.52 L146.66,167.15 L146.26,167.23 L145.86,167.23 L145.46,167.84 L145.06,167.16 L144.66,167.58 L144.27,167.81 L143.87,168.18 L143.48,167.82 L143.09,167.80 L142.70,168.42 L142.32,167.84 L141.93,168.40 L141.55,167.87 L141.18,168.31 L140.80,168.84 L140.38,168.24 L139.97,168.70 L139.55,168.57 L139.15,168.57 L138.74,168.85 L138.34,169.22 L137.94,169.28 L137.54,169.31 L137.15,169.68 L136.75,169.30 L136.36,169.46 L135.97,169.30 L135.58,169.57 L135.19,169.55 L134.80,169.71 L134.41,170.34 L134.03,169.93 L133.64,170.32 L133.25,170.66 L132.86,170.66 L132.47,170.35 L132.08,170.94 L131.69,170.69 L131.30,171.16 L130.92,171.02 L130.54,171.07 L130.16,171.37 L129.78,171.37 L129.39,172.21 L129.01,171.70 L128.62,172.22 L128.24,172.02 L127.85,172.20 L127.47,172.66 L127.09,173.01 L126.70,173.22 L126.32,173.20 L125.94,173.76 L125.56,173.37 L125.18,173.49 L124.81,173.76 L124.43,174.41 L124.06,174.38 L123.70,174.71 L123.33,174.36 L122.97,174.54 L122.61,175.13 L122.25,174.74 L121.90,175.09 L121.48,175.56 L121.06,175.62 L120.64,175.25 L120.22,175.44 L119.79,175.94 L119.37,176.28 L118.95,176.28 L118.54,176.24 L118.12,176.34 L117.71,176.68 L117.31,176.83 L116.92,176.65 L116.53,176.72 L116.15,176.74 L115.78,177.16 L115.42,177.33 L115.07,177.47 L114.73,177.57 L114.41,177.41 L114.10,177.57 L113.80,177.64 L113.23,177.71 L112.74,177.80 L112.30,177.41 L111.90,177.67 L111.54,177.55 L111.20,177.65 L110.87,177.09 L110.53,176.91 L110.18,176.97 L109.80,177.10 L109.46,176.77 L109.13,176.25 L108.79,176.32 L108.44,176.09 L108.10,175.86 L107.76,175.12 L107.42,174.87 L107.09,174.80 L106.76,174.70 L106.43,174.06 L106.11,173.48 L105.80,173.21 L105.55,173.02 L105.31,172.83 L105.07,172.35 L104.83,172.04 L104.60,171.60 L104.36,171.28 L104.13,170.80 L103.91,170.32 L103.68,170.18 L103.46,169.71 L103.24,169.34 L103.03,168.73 L102.81,168.85 L102.61,168.45 L102.40,168.44 L101.98,167.99 L101.59,167.40 L101.22,167.23 L100.86,167.95 L100.49,167.85 L100.11,167.97 L99.70,167.15 L99.33,167.54 L98.94,167.55 L98.55,168.37 L98.15,168.76 L97.74,168.12 L97.33,168.34 L96.92,168.83 L96.50,167.85 L96.07,168.50 L95.63,169.02 L95.19,167.83 L94.74,169.24 L94.29,168.62 L93.85,167.37 L93.42,168.04 L93.00,167.89 L92.57,168.86 L92.19,168.96 L91.84,167.63 L91.47,169.38 L91.06,169.24 L90.58,168.28 L90.00,169.63 L89.71,170.06 L89.39,169.46 L89.06,169.97 L88.71,169.34 L88.35,170.15 L87.97,170.31 L87.58,170.53 L87.19,169.19 L86.79,171.47 L86.38,171.24 L85.98,171.25 L85.57,171.32 L85.17,171.75 L84.77,171.88 L84.38,171.01 L84.00,172.55 L83.60,170.81 L83.20,171.69 L82.80,171.74 L82.40,173.10 L82.00,172.84 L81.60,171.24 L81.20,173.27 L80.80,173.11 L80.40,173.38 L80.00,172.40 L79.60,171.99 L79.20,173.82 L78.80,173.94 L78.40,171.91 L78.00,172.56 L77.60,172.74 L77.20,172.86 L76.80,172.28 L76.40,174.06 L76.00,173.67 L75.60,174.78 L75.20,173.17 L74.80,172.95 L74.40,173.82 L74.00,175.07 L73.60,175.50 L73.20,174.45 L72.80,175.36 L72.40,175.13 L72.00,174.33 L71.59,174.09 L71.15,175.90 L70.70,176.08 L70.24,175.20 L69.78,176.06 L69.31,174.54 L68.85,174.40 L68.40,176.05 L67.97,176.38 L67.56,174.27 L67.17,174.86 L66.82,176.47 L66.50,175.46 L66.23,176.15 L66.00,176.18Z" fill="#000"/>
<path d="M323.75,126.50 L323.98,126.49 L324.26,126.48 L324.58,126.47 L324.94,126.45 L325.32,126.43 L325.74,126.42 L326.18,126.40 L326.64,126.38 L327.11,126.36 L327.59,126.34 L328.08,126.33 L328.57,126.32 L329.06,126.31 L329.53,126.30 L330.00,126.30 L330.40,126.30 L330.82,126.31 L331.26,126.31 L331.73,126.32 L332.20,126.33 L332.69,126.34 L333.17,126.36 L333.66,126.37 L334.14,126.39 L334.61,126.40 L335.07,126.42 L335.51,126.43 L335.93,126.45 L336.31,126.46 L336.67,126.47 L336.99,126.48 L337.27,126.49 L337.50,126.50" fill="none" stroke="#000" stroke-width="1.4" stroke-linejoin="round" stroke-linecap="butt"/><path d="M323.75,124.23 L323.98,125.07 L324.26,124.73 L324.58,124.23 L324.94,124.28 L325.32,124.34 L325.74,124.13 L326.18,124.30 L326.64,125.23 L327.11,124.65 L327.59,124.33 L328.08,124.39 L328.57,124.74 L329.06,124.48 L329.53,124.01 L330.00,124.72 L330.40,124.36 L330.82,124.47 L331.26,124.81 L331.73,125.10 L332.20,124.21 L332.69,125.32 L333.17,124.37 L333.66,124.75 L334.14,125.30 L334.61,124.77 L335.07,123.85 L335.51,124.01 L335.93,124.17 L336.31,124.33 L336.67,124.28 L336.99,124.23 L337.27,125.30 L337.50,125.09 L337.50,128.22 L337.27,128.44 L336.99,127.76 L336.67,127.90 L336.31,128.12 L335.93,128.27 L335.51,128.15 L335.07,128.85 L334.61,128.97 L334.14,128.06 L333.66,127.58 L333.17,127.85 L332.69,127.88 L332.20,127.35 L331.73,127.66 L331.26,127.63 L330.82,127.49 L330.40,127.44 L330.00,128.26 L329.53,128.86 L329.06,128.34 L328.57,128.81 L328.08,127.65 L327.59,127.81 L327.11,127.51 L326.64,128.66 L326.18,128.75 L325.74,127.84 L325.32,127.74 L324.94,128.11 L324.58,127.90 L324.26,128.70 L323.98,127.49 L323.75,128.82Z" fill="#000"/>
<path d="M338.50,114.75 L338.73,114.72 L339.02,114.68 L339.36,114.64 L339.74,114.59 L340.15,114.54 L340.59,114.48 L341.04,114.42 L341.51,114.36 L341.98,114.29 L342.45,114.22 L342.90,114.15 L343.34,114.08 L343.75,114.00 L344.18,113.92 L344.63,113.83 L345.09,113.75 L345.54,113.66 L346.00,113.57 L346.45,113.47 L346.89,113.37 L347.31,113.26 L347.71,113.14 L348.09,113.02 L348.44,112.89 L348.75,112.75 L349.21,112.48 L349.58,112.18 L349.88,111.86 L350.14,111.53 L350.37,111.18 L350.58,110.84 L350.80,110.50 L351.03,110.15 L351.21,109.83 L351.36,109.51 L351.51,109.14 L351.68,108.69 L351.90,108.10 L352.01,107.82 L352.12,107.53 L352.24,107.25 L352.37,106.95 L352.49,106.65 L352.62,106.32 L352.76,105.97 L352.90,105.60 L353.04,105.19 L353.18,104.75 L353.32,104.26 L353.46,103.73 L353.61,103.14 L353.75,102.50 L353.81,102.21 L353.87,101.91 L353.93,101.60 L353.99,101.27 L354.05,100.94 L354.10,100.60 L354.16,100.25 L354.22,99.89 L354.28,99.52 L354.33,99.15 L354.39,98.77 L354.45,98.38 L354.51,97.98 L354.57,97.58 L354.63,97.17 L354.69,96.76 L354.75,96.34 L354.81,95.92 L354.87,95.49 L354.93,95.06 L355.00,94.63 L355.06,94.19 L355.13,93.75 L355.20,93.31 L355.27,92.86 L355.34,92.42 L355.42,91.97 L355.49,91.53 L355.57,91.08 L355.65,90.63 L355.73,90.19 L355.81,89.74 L355.90,89.30 L355.97,88.94 L356.04,88.58 L356.12,88.21 L356.19,87.83 L356.27,87.45 L356.35,87.07 L356.43,86.68 L356.51,86.29 L356.59,85.89 L356.68,85.49 L356.76,85.09 L356.85,84.69 L356.93,84.28 L357.02,83.87 L357.11,83.47 L357.20,83.05 L357.29,82.64 L357.38,82.23 L357.47,81.82 L357.56,81.41 L357.66,80.99 L357.75,80.58 L357.84,80.17 L357.93,79.76 L358.03,79.35 L358.12,78.95 L358.22,78.55 L358.31,78.14 L358.40,77.75 L358.50,77.35 L358.59,76.96 L358.68,76.57 L358.78,76.19 L358.87,75.81 L358.96,75.43 L359.05,75.06 L359.14,74.70 L359.23,74.34 L359.32,73.99 L359.41,73.64 L359.50,73.30 L359.62,72.84 L359.74,72.40 L359.86,71.96 L359.98,71.52 L360.10,71.09 L360.22,70.67 L360.34,70.26 L360.46,69.85 L360.58,69.45 L360.70,69.05 L360.82,68.66 L360.94,68.27 L361.06,67.89 L361.18,67.51 L361.30,67.13 L361.42,66.76 L361.54,66.39 L361.66,66.02 L361.78,65.66 L361.90,65.29 L362.02,64.93 L362.14,64.57 L362.26,64.21 L362.38,63.85 L362.50,63.50 L362.62,63.14 L362.74,62.78 L362.86,62.42 L362.98,62.06 L363.10,61.70 L363.24,61.28 L363.38,60.86 L363.52,60.44 L363.67,60.01 L363.81,59.59 L363.96,59.16 L364.10,58.74 L364.25,58.32 L364.40,57.90 L364.54,57.48 L364.69,57.06 L364.84,56.65 L364.98,56.24 L365.13,55.84 L365.27,55.44 L365.41,55.05 L365.55,54.67 L365.69,54.29 L365.82,53.92 L365.96,53.56 L366.09,53.21 L366.22,52.86 L366.34,52.53 L366.47,52.21 L366.58,51.90 L366.70,51.60 L366.92,51.04 L367.12,50.53 L367.32,50.06 L367.50,49.63 L367.67,49.22 L367.84,48.85 L368.00,48.49 L368.16,48.15 L368.32,47.82 L368.48,47.50 L368.65,47.17 L368.82,46.84 L369.00,46.50 L369.22,46.09 L369.44,45.69 L369.67,45.30 L369.89,44.92 L370.12,44.55 L370.35,44.18 L370.58,43.83 L370.81,43.48 L371.04,43.15 L371.27,42.82 L371.50,42.50 L371.78,42.13 L372.05,41.78 L372.31,41.46 L372.58,41.14 L372.85,40.84 L373.13,40.53 L373.41,40.23 L373.70,39.92 L374.00,39.60 L374.27,39.31 L374.52,39.04 L374.77,38.78 L375.02,38.52 L375.28,38.26 L375.56,37.98 L375.86,37.68 L376.20,37.36 L376.58,37.00 L377.00,36.60 L377.23,36.38 L377.48,36.15 L377.75,35.91 L378.02,35.66 L378.31,35.40 L378.61,35.13 L378.92,34.86 L379.23,34.57 L379.55,34.29 L379.88,34.00 L380.20,33.71 L380.53,33.42 L380.85,33.13 L381.18,32.84 L381.50,32.55 L381.82,32.27 L382.13,31.99 L382.43,31.72 L382.72,31.45 L383.00,31.20 L383.34,30.89 L383.68,30.58 L384.01,30.27 L384.34,29.96 L384.67,29.65 L384.99,29.35 L385.31,29.05 L385.62,28.75 L385.94,28.46 L386.24,28.17 L386.54,27.89 L386.84,27.62 L387.14,27.35 L387.43,27.09 L387.72,26.84 L388.00,26.60 L388.37,26.29 L388.72,26.01 L389.07,25.73 L389.41,25.47 L389.74,25.23 L390.06,24.99 L390.38,24.75 L390.70,24.53 L391.02,24.30 L391.34,24.07 L391.67,23.84 L392.00,23.60 L392.34,23.36 L392.69,23.11 L393.04,22.86 L393.40,22.61 L393.75,22.37 L394.11,22.13 L394.45,21.89 L394.79,21.65 L395.12,21.43 L395.43,21.21 L395.73,21.00 L396.00,20.80 L396.44,20.47 L396.85,20.16 L397.23,19.86 L397.56,19.59 L397.86,19.35 L398.11,19.15 L398.30,19.00" fill="none" stroke="#000" stroke-width="2.1" stroke-linejoin="round" stroke-linecap="butt"/><path d="M338.50,113.07 L338.73,113.34 L339.02,113.32 L339.36,112.85 L339.74,112.82 L340.15,113.00 L340.59,112.57 L341.04,113.08 L341.51,112.92 L341.98,112.18 L342.45,112.31 L342.90,112.80 L343.34,112.15 L343.75,112.18 L344.18,111.92 L344.63,112.05 L345.09,111.85 L345.54,112.28 L346.00,112.16 L346.45,111.67 L346.89,111.43 L347.31,111.54 L347.71,111.27 L348.09,111.28 L348.44,111.18 L348.75,111.29 L349.21,111.28 L349.58,111.07 L349.88,110.87 L350.14,110.20 L350.37,110.15 L350.58,109.70 L350.80,109.77 L351.03,109.64 L351.21,109.36 L351.36,109.08 L351.51,108.71 L351.68,108.13 L351.90,107.64 L352.01,107.33 L352.12,107.30 L352.24,106.86 L352.37,106.84 L352.49,106.64 L352.62,106.28 L352.76,105.41 L352.90,105.45 L353.04,105.13 L353.18,104.45 L353.32,104.21 L353.46,103.18 L353.61,102.51 L353.75,102.15 L353.81,101.55 L353.87,101.75 L353.93,101.08 L353.99,101.06 L354.05,100.27 L354.10,100.05 L354.16,99.91 L354.22,99.89 L354.28,99.06 L354.33,98.51 L354.39,98.53 L354.45,98.26 L354.51,97.36 L354.57,97.13 L354.63,96.72 L354.69,96.24 L354.75,95.79 L354.81,95.24 L354.87,94.83 L354.93,94.99 L355.00,94.06 L355.06,93.50 L355.13,93.37 L355.20,92.62 L355.27,92.20 L355.34,91.83 L355.42,91.78 L355.49,91.35 L355.57,90.43 L355.65,90.22 L355.73,89.52 L355.81,89.37 L355.90,89.18 L355.97,88.83 L356.04,88.18 L356.12,87.81 L356.19,87.43 L356.27,86.88 L356.35,86.51 L356.43,86.23 L356.51,85.78 L356.59,85.54 L356.68,84.84 L356.76,84.68 L356.85,84.60 L356.93,84.24 L357.02,83.37 L357.11,83.36 L357.20,82.96 L357.29,82.49 L357.38,81.86 L357.47,81.71 L357.56,81.15 L357.66,80.44 L357.75,80.25 L357.84,79.69 L357.93,78.99 L358.03,79.29 L358.12,78.34 L358.22,78.22 L358.31,77.95 L358.40,77.30 L358.50,77.32 L358.59,76.91 L358.68,75.93 L358.78,76.15 L358.87,75.54 L358.96,75.22 L359.05,74.88 L359.14,74.67 L359.23,74.10 L359.32,73.58 L359.41,73.64 L359.50,72.70 L359.62,72.46 L359.74,71.72 L359.86,71.26 L359.98,70.95 L360.10,70.40 L360.22,70.34 L360.34,70.16 L360.46,69.64 L360.58,68.73 L360.70,68.82 L360.82,68.27 L360.94,68.05 L361.06,67.42 L361.18,67.24 L361.30,66.80 L361.42,66.59 L361.54,66.16 L361.66,65.99 L361.78,65.45 L361.90,64.63 L362.02,64.15 L362.14,63.69 L362.26,63.64 L362.38,63.05 L362.50,62.76 L362.62,62.68 L362.74,62.03 L362.86,61.80 L362.98,62.04 L363.10,61.61 L363.24,60.70 L363.38,60.41 L363.52,59.74 L363.67,59.40 L363.81,59.35 L363.96,58.48 L364.10,57.81 L364.25,57.86 L364.40,57.31 L364.54,57.34 L364.69,56.77 L364.84,56.59 L364.98,55.57 L365.13,55.34 L365.27,55.33 L365.41,54.09 L365.55,54.21 L365.69,53.84 L365.82,52.98 L365.96,53.42 L366.09,53.06 L366.22,51.91 L366.34,51.52 L366.47,52.14 L366.58,51.47 L366.70,51.13 L366.92,50.01 L367.12,49.23 L367.32,49.50 L367.50,48.10 L367.67,48.40 L367.84,48.43 L368.00,46.88 L368.16,47.10 L368.32,46.08 L368.48,46.18 L368.65,45.94 L368.82,45.27 L369.00,45.02 L369.22,44.01 L369.44,44.45 L369.67,42.84 L369.89,43.50 L370.12,43.25 L370.35,41.38 L370.58,40.88 L370.81,41.88 L371.04,41.02 L371.27,40.74 L371.50,39.27 L371.78,39.21 L372.05,39.75 L372.31,39.28 L372.58,37.33 L372.85,38.38 L373.13,36.50 L373.41,38.27 L373.70,36.00 L374.00,37.68 L374.27,35.54 L374.52,36.56 L374.77,35.68 L375.02,34.96 L375.28,35.29 L375.56,34.26 L375.86,34.27 L376.20,34.84 L376.58,34.80 L377.00,33.31 L377.23,33.05 L377.48,33.14 L377.75,31.91 L378.02,33.14 L378.31,32.73 L378.61,31.59 L378.92,31.33 L379.23,32.54 L379.55,30.71 L379.88,30.28 L380.20,29.43 L380.53,30.90 L380.85,30.45 L381.18,30.41 L381.50,28.97 L381.82,29.34 L382.13,29.67 L382.43,28.78 L382.72,27.68 L383.00,28.41 L383.34,27.06 L383.68,27.65 L384.01,27.85 L384.34,27.09 L384.67,25.25 L384.99,25.29 L385.31,26.92 L385.62,24.43 L385.94,24.19 L386.24,24.11 L386.54,25.79 L386.84,24.95 L387.14,24.47 L387.43,23.50 L387.72,24.01 L388.00,22.64 L388.37,21.84 L388.72,22.75 L389.07,22.70 L389.41,22.16 L389.74,21.10 L390.06,20.93 L390.38,21.87 L390.70,22.27 L391.02,21.60 L391.34,20.56 L391.67,19.44 L392.00,21.32 L392.34,19.41 L392.69,19.94 L393.04,18.79 L393.40,20.22 L393.75,18.77 L394.11,19.52 L394.45,19.40 L394.79,18.69 L395.12,17.96 L395.43,17.34 L395.73,17.61 L396.00,16.20 L396.44,18.06 L396.85,16.45 L397.23,15.36 L397.56,15.33 L397.86,15.59 L398.11,16.02 L398.30,16.19 L398.30,23.75 L398.11,21.68 L397.86,23.22 L397.56,24.33 L397.23,23.27 L396.85,25.01 L396.44,26.28 L396.00,23.08 L395.73,27.38 L395.43,26.01 L395.12,25.95 L394.79,28.16 L394.45,27.02 L394.11,24.92 L393.75,26.82 L393.40,27.03 L393.04,28.20 L392.69,27.87 L392.34,26.65 L392.00,26.33 L391.67,28.57 L391.34,30.15 L391.02,26.52 L390.70,28.52 L390.38,29.35 L390.06,28.73 L389.74,31.04 L389.41,29.94 L389.07,28.68 L388.72,33.38 L388.37,28.42 L388.00,31.82 L387.72,29.57 L387.43,30.99 L387.14,32.94 L386.84,33.90 L386.54,32.60 L386.24,32.12 L385.94,30.77 L385.62,31.40 L385.31,32.40 L384.99,33.66 L384.67,32.31 L384.34,34.33 L384.01,32.33 L383.68,33.61 L383.34,33.89 L383.00,36.25 L382.72,38.45 L382.43,38.08 L382.13,34.09 L381.82,37.68 L381.50,36.83 L381.18,35.57 L380.85,37.77 L380.53,37.29 L380.20,38.14 L379.88,37.19 L379.55,38.29 L379.23,37.56 L378.92,39.03 L378.61,38.12 L378.31,37.78 L378.02,40.93 L377.75,39.01 L377.48,41.15 L377.23,38.43 L377.00,39.47 L376.58,39.54 L376.20,41.79 L375.86,40.31 L375.56,42.80 L375.28,41.44 L375.02,43.27 L374.77,44.77 L374.52,41.22 L374.27,45.92 L374.00,44.78 L373.70,43.47 L373.41,43.18 L373.13,46.04 L372.85,43.84 L372.58,43.57 L372.31,45.01 L372.05,46.13 L371.78,44.81 L371.50,45.15 L371.27,46.68 L371.04,44.79 L370.81,45.19 L370.58,47.07 L370.35,46.23 L370.12,45.84 L369.89,46.85 L369.67,46.76 L369.44,47.15 L369.22,46.92 L369.00,47.41 L368.82,48.15 L368.65,48.67 L368.48,49.44 L368.32,49.55 L368.16,48.75 L368.00,49.14 L367.84,50.27 L367.67,49.84 L367.50,50.62 L367.32,50.73 L367.12,51.57 L366.92,52.17 L366.70,52.66 L366.58,52.14 L366.47,52.82 L366.34,53.10 L366.22,53.63 L366.09,54.05 L365.96,54.08 L365.82,54.13 L365.69,54.56 L365.55,55.48 L365.41,55.97 L365.27,56.32 L365.13,56.29 L364.98,56.90 L364.84,56.91 L364.69,57.61 L364.54,57.72 L364.40,58.51 L364.25,58.97 L364.10,59.21 L363.96,59.36 L363.81,59.66 L363.67,60.07 L363.52,60.90 L363.38,60.86 L363.24,61.86 L363.10,62.47 L362.98,62.18 L362.86,63.05 L362.74,63.31 L362.62,63.90 L362.50,63.62 L362.38,64.42 L362.26,64.24 L362.14,64.70 L362.02,65.27 L361.90,65.88 L361.78,66.17 L361.66,66.03 L361.54,66.46 L361.42,67.20 L361.30,67.54 L361.18,67.81 L361.06,68.09 L360.94,69.10 L360.82,68.79 L360.70,69.25 L360.58,70.19 L360.46,69.98 L360.34,70.31 L360.22,70.96 L360.10,71.69 L359.98,72.35 L359.86,72.28 L359.74,72.75 L359.62,73.62 L359.50,73.75 L359.41,73.84 L359.32,74.12 L359.23,74.96 L359.14,74.85 L359.05,75.14 L358.96,75.53 L358.87,76.25 L358.78,76.88 L358.68,76.63 L358.59,77.71 L358.50,77.90 L358.40,78.30 L358.31,78.25 L358.22,79.27 L358.12,79.15 L358.03,79.55 L357.93,80.38 L357.84,80.57 L357.75,80.58 L357.66,80.99 L357.56,81.55 L357.47,82.14 L357.38,82.99 L357.29,83.37 L357.20,83.73 L357.11,84.01 L357.02,84.47 L356.93,84.45 L356.85,84.77 L356.76,85.80 L356.68,86.20 L356.59,86.60 L356.51,86.62 L356.43,87.05 L356.35,87.74 L356.27,87.82 L356.19,88.00 L356.12,88.78 L356.04,88.80 L355.97,89.28 L355.90,89.28 L355.81,89.74 L355.73,90.54 L355.65,91.29 L355.57,91.32 L355.49,91.82 L355.42,92.13 L355.34,92.55 L355.27,93.16 L355.20,93.76 L355.13,93.83 L355.06,94.65 L355.00,94.71 L354.93,95.15 L354.87,95.99 L354.81,96.18 L354.75,96.56 L354.69,97.08 L354.63,97.80 L354.57,98.13 L354.51,98.56 L354.45,98.50 L354.39,98.90 L354.33,99.83 L354.28,100.18 L354.22,100.07 L354.16,100.48 L354.10,101.10 L354.05,101.52 L353.99,101.41 L353.93,101.95 L353.87,102.14 L353.81,102.79 L353.75,102.50 L353.61,103.48 L353.46,103.82 L353.32,104.47 L353.18,105.05 L353.04,105.74 L352.90,105.81 L352.76,106.36 L352.62,106.54 L352.49,106.62 L352.37,107.04 L352.24,107.27 L352.12,107.77 L352.01,108.36 L351.90,108.15 L351.68,109.13 L351.51,109.70 L351.36,109.77 L351.21,110.46 L351.03,110.66 L350.80,111.56 L350.58,111.62 L350.37,112.42 L350.14,112.38 L349.88,112.93 L349.58,113.26 L349.21,113.97 L348.75,114.28 L348.44,114.84 L348.09,114.34 L347.71,115.10 L347.31,114.96 L346.89,114.88 L346.45,115.34 L346.00,115.24 L345.54,115.28 L345.09,115.27 L344.63,115.57 L344.18,115.83 L343.75,115.70 L343.34,115.76 L342.90,115.50 L342.45,115.88 L341.98,115.76 L341.51,115.77 L341.04,116.62 L340.59,116.20 L340.15,116.52 L339.74,116.81 L339.36,116.01 L339.02,116.56 L338.73,116.64 L338.50,116.23Z" fill="#000"/>
<path d="M325.30,146.50 L325.53,146.49 L325.81,146.48 L326.13,146.46 L326.48,146.45 L326.87,146.43 L327.29,146.41 L327.73,146.39 L328.19,146.37 L328.66,146.35 L329.13,146.33 L329.61,146.32 L330.08,146.31 L330.55,146.30 L331.00,146.30 L331.40,146.30 L331.84,146.31 L332.29,146.32 L332.76,146.33 L333.24,146.34 L333.73,146.35 L334.22,146.37 L334.71,146.39 L335.18,146.40 L335.63,146.42 L336.07,146.44 L336.47,146.45 L336.84,146.47 L337.18,146.48 L337.46,146.49 L337.70,146.50" fill="none" stroke="#000" stroke-width="1.4" stroke-linejoin="round" stroke-linecap="butt"/><path d="M325.30,145.14 L325.53,144.36 L325.81,143.88 L326.13,144.73 L326.48,145.14 L326.87,145.05 L327.29,144.76 L327.73,145.21 L328.19,145.27 L328.66,144.29 L329.13,144.54 L329.61,144.39 L330.08,143.80 L330.55,143.79 L331.00,143.89 L331.40,143.90 L331.84,145.15 L332.29,143.80 L332.76,145.01 L333.24,144.52 L333.73,144.54 L334.22,144.98 L334.71,144.96 L335.18,144.07 L335.63,144.79 L336.07,143.88 L336.47,144.97 L336.84,144.92 L337.18,145.11 L337.46,144.82 L337.70,145.35 L337.70,147.64 L337.46,148.43 L337.18,148.14 L336.84,147.74 L336.47,147.48 L336.07,147.76 L335.63,147.69 L335.18,148.83 L334.71,148.06 L334.22,147.39 L333.73,148.48 L333.24,147.45 L332.76,147.57 L332.29,148.67 L331.84,148.41 L331.40,147.52 L331.00,147.76 L330.55,148.23 L330.08,148.09 L329.61,147.55 L329.13,148.37 L328.66,147.89 L328.19,148.36 L327.73,147.80 L327.29,148.85 L326.87,147.46 L326.48,148.77 L326.13,148.19 L325.81,147.81 L325.53,147.63 L325.30,149.04Z" fill="#000"/>
<path d="M338.75,136.90 L339.00,136.84 L339.32,136.76 L339.71,136.66 L340.14,136.56 L340.61,136.45 L341.09,136.32 L341.59,136.20 L342.08,136.07 L342.56,135.95 L343.00,135.83 L343.40,135.71 L343.75,135.60 L344.30,135.37 L344.72,135.10 L345.08,134.84 L345.42,134.62 L345.79,134.46 L346.25,134.40 L346.62,134.45 L347.01,134.59 L347.43,134.78 L347.87,135.00 L348.31,135.23 L348.75,135.43 L349.19,135.58 L349.61,135.64 L350.00,135.60 L350.34,135.46 L350.67,135.26 L351.00,134.99 L351.32,134.67 L351.63,134.32 L351.93,133.95 L352.23,133.57 L352.53,133.19 L352.82,132.83 L353.10,132.50 L353.41,132.16 L353.73,131.84 L354.05,131.51 L354.35,131.19 L354.65,130.87 L354.93,130.53 L355.18,130.18 L355.41,129.80 L355.60,129.40 L355.72,129.05 L355.81,128.69 L355.88,128.31 L355.92,127.92 L355.95,127.52 L355.98,127.11 L356.00,126.70 L356.04,126.28 L356.08,125.85 L356.15,125.43 L356.25,125.00 L356.35,124.64 L356.45,124.29 L356.56,123.94 L356.67,123.59 L356.79,123.23 L356.91,122.88 L357.05,122.51 L357.19,122.13 L357.35,121.74 L357.52,121.34 L357.70,120.91 L357.89,120.47 L358.10,120.00 L358.24,119.70 L358.38,119.39 L358.54,119.08 L358.69,118.76 L358.86,118.44 L359.03,118.11 L359.20,117.78 L359.38,117.44 L359.56,117.09 L359.75,116.74 L359.94,116.38 L360.13,116.02 L360.32,115.65 L360.52,115.28 L360.72,114.90 L360.92,114.51 L361.11,114.12 L361.31,113.72 L361.51,113.32 L361.71,112.91 L361.90,112.50 L362.05,112.17 L362.21,111.84 L362.36,111.50 L362.52,111.15 L362.68,110.79 L362.84,110.44 L363.00,110.07 L363.17,109.70 L363.33,109.33 L363.50,108.96 L363.66,108.58 L363.83,108.20 L363.99,107.82 L364.16,107.43 L364.33,107.05 L364.49,106.66 L364.66,106.27 L364.82,105.89 L364.99,105.50 L365.15,105.12 L365.31,104.74 L365.47,104.36 L365.63,103.98 L365.79,103.60 L365.95,103.23 L366.10,102.86 L366.25,102.50 L366.41,102.11 L366.58,101.71 L366.74,101.30 L366.90,100.89 L367.07,100.48 L367.23,100.07 L367.39,99.65 L367.56,99.24 L367.72,98.82 L367.88,98.41 L368.04,98.00 L368.19,97.59 L368.35,97.19 L368.50,96.79 L368.65,96.39 L368.80,96.01 L368.95,95.63 L369.09,95.26 L369.23,94.90 L369.37,94.55 L369.51,94.22 L369.64,93.89 L369.76,93.58 L369.88,93.28 L370.00,93.00 L370.25,92.42 L370.46,91.93 L370.66,91.50 L370.84,91.13 L371.00,90.79 L371.16,90.48 L371.31,90.19 L371.47,89.88 L371.63,89.56 L371.81,89.20 L372.00,88.80 L372.16,88.45 L372.33,88.08 L372.50,87.70 L372.68,87.31 L372.86,86.91 L373.04,86.51 L373.22,86.11 L373.40,85.70 L373.59,85.31 L373.77,84.92 L373.96,84.54 L374.14,84.17 L374.32,83.83 L374.50,83.50 L374.75,83.07 L374.99,82.68 L375.23,82.30 L375.48,81.95 L375.72,81.61 L375.96,81.28 L376.21,80.96 L376.47,80.64 L376.73,80.32 L377.00,80.00 L377.27,79.68 L377.54,79.38 L377.80,79.08 L378.07,78.79 L378.34,78.51 L378.63,78.22 L378.94,77.93 L379.26,77.63 L379.62,77.32 L380.00,77.00 L380.27,76.78 L380.56,76.55 L380.86,76.32 L381.16,76.08 L381.48,75.84 L381.81,75.59 L382.14,75.35 L382.48,75.10 L382.83,74.85 L383.19,74.61 L383.54,74.36 L383.90,74.12 L384.27,73.87 L384.63,73.64 L385.00,73.40 L385.33,73.19 L385.67,72.99 L386.02,72.78 L386.39,72.57 L386.75,72.37 L387.12,72.16 L387.50,71.96 L387.87,71.75 L388.25,71.55 L388.62,71.35 L388.99,71.15 L389.35,70.95 L389.70,70.75 L390.05,70.56 L390.38,70.37 L390.70,70.18 L391.00,70.00 L391.41,69.74 L391.80,69.49 L392.17,69.24 L392.53,69.00 L392.88,68.76 L393.21,68.53 L393.53,68.29 L393.84,68.07 L394.15,67.84 L394.44,67.62 L394.72,67.41 L395.00,67.20 L395.41,66.88 L395.81,66.56 L396.19,66.23 L396.55,65.93 L396.88,65.64 L397.17,65.38 L397.41,65.17 L397.60,65.00" fill="none" stroke="#000" stroke-width="2.1" stroke-linejoin="round" stroke-linecap="butt"/><path d="M338.75,135.26 L339.00,134.72 L339.32,134.61 L339.71,134.86 L340.14,134.66 L340.61,135.18 L341.09,134.67 L341.59,134.25 L342.08,134.88 L342.56,134.08 L343.00,134.46 L343.40,133.76 L343.75,133.59 L344.30,133.78 L344.72,133.09 L345.08,133.66 L345.42,133.35 L345.79,132.85 L346.25,132.84 L346.62,133.00 L347.01,132.96 L347.43,132.78 L347.87,133.36 L348.31,133.22 L348.75,133.71 L349.19,133.96 L349.61,133.97 L350.00,134.49 L350.34,133.89 L350.67,133.32 L351.00,133.23 L351.32,133.45 L351.63,133.21 L351.93,132.23 L352.23,131.83 L352.53,131.95 L352.82,131.61 L353.10,131.16 L353.41,130.58 L353.73,130.60 L354.05,130.36 L354.35,129.68 L354.65,129.69 L354.93,128.73 L355.18,128.71 L355.41,128.35 L355.60,128.03 L355.72,127.74 L355.81,127.11 L355.88,126.91 L355.92,126.50 L355.95,126.45 L355.98,126.10 L356.00,125.25 L356.04,124.90 L356.08,124.12 L356.15,123.75 L356.25,123.63 L356.35,123.20 L356.45,122.81 L356.56,122.50 L356.67,122.23 L356.79,122.12 L356.91,121.41 L357.05,121.03 L357.19,120.91 L357.35,121.01 L357.52,120.55 L357.70,119.92 L357.89,119.26 L358.10,119.50 L358.24,118.39 L358.38,118.87 L358.54,118.01 L358.69,118.31 L358.86,117.26 L359.03,117.42 L359.20,116.98 L359.38,116.78 L359.56,116.09 L359.75,115.91 L359.94,115.55 L360.13,115.93 L360.32,114.87 L360.52,114.40 L360.72,114.01 L360.92,114.18 L361.11,113.63 L361.31,113.32 L361.51,112.86 L361.71,112.47 L361.90,112.17 L362.05,111.98 L362.21,111.69 L362.36,111.05 L362.52,110.27 L362.68,110.25 L362.84,109.88 L363.00,109.75 L363.17,109.61 L363.33,108.80 L363.50,108.03 L363.66,108.42 L363.83,107.19 L363.99,106.92 L364.16,106.74 L364.33,106.73 L364.49,106.04 L364.66,106.29 L364.82,105.41 L364.99,104.57 L365.15,105.00 L365.31,104.52 L365.47,104.02 L365.63,103.02 L365.79,102.80 L365.95,103.13 L366.10,101.93 L366.25,101.80 L366.41,101.06 L366.58,101.21 L366.74,100.92 L366.90,99.88 L367.07,99.47 L367.23,99.13 L367.39,99.51 L367.56,98.69 L367.72,98.69 L367.88,97.82 L368.04,97.73 L368.19,97.56 L368.35,96.63 L368.50,96.51 L368.65,96.05 L368.80,95.17 L368.95,94.35 L369.09,93.89 L369.23,94.05 L369.37,93.48 L369.51,93.24 L369.64,92.37 L369.76,92.91 L369.88,92.44 L370.00,92.48 L370.25,91.49 L370.46,90.52 L370.66,90.02 L370.84,89.71 L371.00,89.79 L371.16,88.56 L371.31,88.61 L371.47,88.04 L371.63,88.62 L371.81,87.04 L372.00,86.48 L372.16,86.08 L372.33,86.59 L372.50,85.37 L372.68,86.08 L372.86,84.67 L373.04,84.60 L373.22,84.22 L373.40,83.34 L373.59,83.30 L373.77,82.92 L373.96,81.42 L374.14,82.77 L374.32,82.21 L374.50,80.87 L374.75,79.64 L374.99,80.07 L375.23,79.17 L375.48,79.32 L375.72,78.30 L375.96,78.05 L376.21,77.86 L376.47,78.63 L376.73,76.75 L377.00,76.67 L377.27,76.13 L377.54,75.00 L377.80,76.29 L378.07,74.18 L378.34,75.96 L378.63,74.78 L378.94,73.81 L379.26,75.10 L379.62,74.38 L380.00,74.03 L380.27,72.12 L380.56,72.82 L380.86,73.10 L381.16,72.76 L381.48,71.50 L381.81,73.26 L382.14,72.46 L382.48,72.84 L382.83,72.50 L383.19,70.43 L383.54,71.22 L383.90,69.34 L384.27,70.28 L384.63,70.77 L385.00,70.57 L385.33,70.55 L385.67,70.48 L386.02,68.41 L386.39,68.18 L386.75,67.98 L387.12,69.78 L387.50,68.51 L387.87,68.35 L388.25,67.64 L388.62,68.75 L388.99,68.24 L389.35,68.45 L389.70,66.07 L390.05,68.20 L390.38,66.17 L390.70,66.65 L391.00,65.99 L391.41,66.83 L391.80,65.69 L392.17,67.07 L392.53,64.67 L392.88,63.85 L393.21,65.37 L393.53,65.88 L393.84,65.87 L394.15,63.58 L394.44,64.89 L394.72,63.63 L395.00,64.40 L395.41,64.42 L395.81,61.91 L396.19,63.23 L396.55,62.10 L396.88,63.02 L397.17,60.64 L397.41,60.19 L397.60,62.27 L397.60,69.20 L397.41,70.77 L397.17,71.04 L396.88,69.12 L396.55,70.35 L396.19,71.17 L395.81,69.94 L395.41,69.70 L395.00,72.06 L394.72,74.10 L394.44,73.08 L394.15,71.49 L393.84,73.74 L393.53,70.71 L393.21,70.80 L392.88,71.75 L392.53,74.72 L392.17,75.93 L391.80,74.43 L391.41,75.33 L391.00,72.96 L390.70,73.61 L390.38,75.18 L390.05,75.31 L389.70,74.86 L389.35,73.79 L388.99,75.57 L388.62,75.33 L388.25,75.07 L387.87,79.10 L387.50,75.16 L387.12,74.70 L386.75,78.12 L386.39,75.21 L386.02,76.52 L385.67,77.20 L385.33,76.08 L385.00,79.48 L384.63,77.52 L384.27,78.28 L383.90,78.65 L383.54,78.22 L383.19,78.99 L382.83,79.43 L382.48,79.21 L382.14,78.84 L381.81,81.82 L381.48,80.90 L381.16,78.33 L380.86,81.31 L380.56,80.81 L380.27,81.12 L380.00,83.28 L379.62,82.80 L379.26,83.35 L378.94,82.42 L378.63,81.90 L378.34,82.66 L378.07,84.08 L377.80,82.95 L377.54,82.84 L377.27,83.83 L377.00,83.21 L376.73,82.68 L376.47,84.81 L376.21,84.48 L375.96,85.01 L375.72,84.77 L375.48,85.25 L375.23,85.76 L374.99,85.57 L374.75,86.55 L374.50,85.72 L374.32,86.35 L374.14,86.08 L373.96,87.71 L373.77,89.68 L373.59,86.72 L373.40,88.79 L373.22,88.96 L373.04,89.07 L372.86,88.41 L372.68,90.58 L372.50,90.12 L372.33,89.84 L372.16,90.46 L372.00,90.40 L371.81,90.90 L371.63,91.36 L371.47,92.34 L371.31,91.97 L371.16,92.25 L371.00,91.57 L370.84,92.02 L370.66,92.82 L370.46,93.74 L370.25,93.26 L370.00,94.06 L369.88,94.77 L369.76,94.08 L369.64,94.70 L369.51,94.87 L369.37,94.99 L369.23,95.40 L369.09,95.97 L368.95,96.01 L368.80,97.15 L368.65,97.29 L368.50,97.03 L368.35,98.33 L368.19,98.04 L368.04,98.09 L367.88,98.57 L367.72,98.82 L367.56,99.93 L367.39,100.19 L367.23,100.87 L367.07,100.52 L366.90,101.46 L366.74,101.76 L366.58,101.72 L366.41,103.09 L366.25,102.92 L366.10,103.05 L365.95,103.42 L365.79,104.29 L365.63,103.97 L365.47,104.96 L365.31,105.06 L365.15,105.57 L364.99,106.27 L364.82,106.77 L364.66,106.97 L364.49,107.55 L364.33,107.43 L364.16,107.79 L363.99,108.32 L363.83,108.85 L363.66,108.67 L363.50,108.99 L363.33,109.40 L363.17,110.42 L363.00,110.91 L362.84,110.91 L362.68,111.13 L362.52,111.88 L362.36,112.10 L362.21,112.46 L362.05,112.88 L361.90,112.68 L361.71,113.11 L361.51,113.93 L361.31,113.95 L361.11,114.48 L360.92,114.77 L360.72,115.84 L360.52,116.18 L360.32,116.59 L360.13,116.31 L359.94,116.99 L359.75,116.90 L359.56,117.26 L359.38,117.81 L359.20,118.22 L359.03,118.85 L358.86,119.09 L358.69,119.22 L358.54,119.64 L358.38,120.13 L358.24,121.02 L358.10,121.32 L357.89,121.30 L357.70,121.96 L357.52,122.03 L357.35,122.58 L357.19,123.41 L357.05,123.29 L356.91,124.26 L356.79,124.77 L356.67,124.47 L356.56,125.18 L356.45,125.77 L356.35,126.00 L356.25,126.67 L356.15,126.83 L356.08,126.86 L356.04,128.03 L356.00,128.01 L355.98,128.25 L355.95,129.15 L355.92,129.06 L355.88,129.39 L355.81,130.31 L355.72,130.77 L355.60,130.97 L355.41,131.37 L355.18,131.29 L354.93,131.83 L354.65,132.20 L354.35,132.21 L354.05,133.32 L353.73,132.89 L353.41,133.32 L353.10,134.26 L352.82,134.69 L352.53,134.86 L352.23,135.03 L351.93,134.99 L351.63,135.91 L351.32,136.10 L351.00,136.31 L350.67,136.81 L350.34,136.91 L350.00,136.96 L349.61,137.23 L349.19,136.66 L348.75,137.38 L348.31,137.24 L347.87,136.20 L347.43,135.88 L347.01,135.81 L346.62,136.15 L346.25,136.39 L345.79,135.53 L345.42,135.69 L345.08,136.51 L344.72,136.28 L344.30,136.46 L343.75,136.73 L343.40,136.99 L343.00,137.13 L342.56,137.49 L342.08,137.47 L341.59,137.71 L341.09,138.45 L340.61,137.80 L340.14,138.17 L339.71,137.80 L339.32,137.94 L339.00,137.94 L338.75,138.44Z" fill="#000"/>
<path d="M314.40,169.75 L314.61,169.75 L314.85,169.74 L315.12,169.73 L315.40,169.72 L315.71,169.72 L316.04,169.71 L316.39,169.70 L316.76,169.69 L317.14,169.67 L317.54,169.66 L317.95,169.65 L318.37,169.64 L318.80,169.63 L319.24,169.62 L319.69,169.60 L320.15,169.59 L320.61,169.58 L321.07,169.57 L321.54,169.56 L322.01,169.55 L322.47,169.54 L322.94,169.53 L323.40,169.52 L323.85,169.52 L324.30,169.51 L324.74,169.51 L325.17,169.50 L325.59,169.50 L326.00,169.50 L326.41,169.50 L326.83,169.50 L327.26,169.51 L327.70,169.51 L328.16,169.52 L328.61,169.52 L329.08,169.53 L329.54,169.54 L330.01,169.55 L330.48,169.56 L330.95,169.57 L331.42,169.58 L331.89,169.59 L332.35,169.60 L332.80,169.62 L333.25,169.63 L333.69,169.64 L334.11,169.65 L334.53,169.66 L334.93,169.67 L335.32,169.69 L335.69,169.70 L336.04,169.71 L336.37,169.72 L336.69,169.72 L336.98,169.73 L337.24,169.74 L337.48,169.75 L337.70,169.75" fill="none" stroke="#000" stroke-width="1.4" stroke-linejoin="round" stroke-linecap="butt"/><path d="M314.40,167.51 L314.61,168.23 L314.85,167.33 L315.12,167.98 L315.40,166.63 L315.71,167.41 L316.04,167.26 L316.39,167.27 L316.76,166.62 L317.14,168.49 L317.54,166.68 L317.95,166.75 L318.37,167.67 L318.80,166.84 L319.24,167.69 L319.69,166.87 L320.15,166.78 L320.61,167.73 L321.07,166.92 L321.54,166.84 L322.01,167.62 L322.47,167.21 L322.94,167.52 L323.40,166.78 L323.85,167.72 L324.30,166.99 L324.74,168.25 L325.17,167.62 L325.59,167.92 L326.00,167.36 L326.41,167.42 L326.83,167.56 L327.26,167.43 L327.70,166.47 L328.16,168.41 L328.61,168.24 L329.08,166.45 L329.54,167.57 L330.01,167.00 L330.48,167.61 L330.95,168.16 L331.42,167.11 L331.89,166.83 L332.35,166.58 L332.80,167.08 L333.25,166.70 L333.69,166.58 L334.11,168.27 L334.53,168.18 L334.93,168.18 L335.32,166.59 L335.69,167.11 L336.04,167.76 L336.37,168.08 L336.69,167.37 L336.98,166.88 L337.24,168.50 L337.48,168.53 L337.70,167.13 L337.70,172.11 L337.48,171.35 L337.24,171.69 L336.98,172.57 L336.69,171.24 L336.37,171.54 L336.04,172.13 L335.69,172.19 L335.32,172.56 L334.93,171.19 L334.53,171.46 L334.11,171.94 L333.69,171.31 L333.25,172.26 L332.80,172.49 L332.35,171.57 L331.89,171.65 L331.42,171.97 L330.95,171.14 L330.48,171.96 L330.01,172.44 L329.54,171.64 L329.08,171.60 L328.61,170.84 L328.16,171.69 L327.70,171.44 L327.26,170.94 L326.83,171.77 L326.41,171.52 L326.00,171.80 L325.59,171.65 L325.17,172.34 L324.74,171.50 L324.30,171.27 L323.85,171.49 L323.40,172.18 L322.94,170.96 L322.47,171.00 L322.01,171.14 L321.54,172.55 L321.07,170.86 L320.61,171.88 L320.15,170.99 L319.69,172.02 L319.24,170.79 L318.80,171.04 L318.37,170.87 L317.95,171.38 L317.54,171.37 L317.14,170.78 L316.76,172.72 L316.39,171.06 L316.04,171.72 L315.71,171.58 L315.40,170.91 L315.12,171.33 L314.85,171.16 L314.61,172.47 L314.40,171.71Z" fill="#000"/>
<path d="M339.10,158.90 L339.33,158.84 L339.62,158.77 L339.95,158.69 L340.32,158.60 L340.72,158.49 L341.15,158.38 L341.61,158.27 L342.08,158.15 L342.55,158.03 L343.03,157.92 L343.51,157.81 L343.97,157.70 L344.42,157.61 L344.84,157.53 L345.24,157.46 L345.60,157.40 L346.13,157.33 L346.62,157.26 L347.08,157.20 L347.52,157.15 L347.94,157.13 L348.35,157.12 L348.75,157.14 L349.16,157.19 L349.57,157.28 L350.00,157.40 L350.36,157.56 L350.72,157.79 L351.08,158.07 L351.44,158.39 L351.79,158.73 L352.15,159.08 L352.51,159.41 L352.86,159.71 L353.22,159.96 L353.58,160.16 L353.94,160.28 L354.30,160.30 L354.61,160.25 L354.92,160.17 L355.24,160.04 L355.55,159.87 L355.87,159.67 L356.18,159.44 L356.50,159.18 L356.82,158.89 L357.13,158.58 L357.45,158.24 L357.76,157.88 L358.08,157.50 L358.39,157.11 L358.70,156.70 L358.90,156.43 L359.09,156.14 L359.29,155.84 L359.49,155.52 L359.68,155.19 L359.87,154.85 L360.07,154.50 L360.26,154.14 L360.46,153.78 L360.65,153.40 L360.84,153.02 L361.04,152.63 L361.23,152.24 L361.43,151.85 L361.62,151.45 L361.82,151.05 L362.01,150.65 L362.21,150.26 L362.40,149.86 L362.60,149.47 L362.80,149.08 L363.00,148.70 L363.18,148.35 L363.36,148.01 L363.54,147.67 L363.72,147.33 L363.89,147.00 L364.07,146.66 L364.25,146.33 L364.42,145.99 L364.60,145.66 L364.77,145.32 L364.95,144.98 L365.13,144.63 L365.31,144.28 L365.49,143.93 L365.68,143.57 L365.86,143.21 L366.05,142.84 L366.25,142.46 L366.44,142.07 L366.65,141.68 L366.85,141.27 L367.06,140.86 L367.28,140.44 L367.50,140.00 L367.66,139.68 L367.83,139.36 L367.99,139.03 L368.17,138.69 L368.34,138.35 L368.52,137.99 L368.71,137.64 L368.89,137.28 L369.08,136.91 L369.27,136.54 L369.46,136.16 L369.65,135.78 L369.85,135.40 L370.04,135.02 L370.24,134.63 L370.44,134.25 L370.63,133.86 L370.83,133.47 L371.03,133.08 L371.22,132.69 L371.42,132.30 L371.61,131.91 L371.81,131.52 L372.00,131.14 L372.19,130.76 L372.37,130.38 L372.56,130.00 L372.74,129.63 L372.92,129.26 L373.09,128.90 L373.26,128.54 L373.43,128.19 L373.59,127.84 L373.75,127.50 L373.94,127.09 L374.12,126.68 L374.30,126.28 L374.47,125.87 L374.64,125.47 L374.80,125.07 L374.96,124.67 L375.12,124.28 L375.28,123.88 L375.43,123.49 L375.58,123.10 L375.73,122.72 L375.88,122.34 L376.02,121.96 L376.17,121.58 L376.31,121.21 L376.45,120.84 L376.60,120.48 L376.74,120.12 L376.89,119.76 L377.03,119.41 L377.18,119.07 L377.33,118.72 L377.48,118.39 L377.63,118.06 L377.78,117.73 L377.94,117.41 L378.10,117.10 L378.32,116.69 L378.53,116.30 L378.75,115.91 L378.97,115.54 L379.20,115.17 L379.42,114.82 L379.64,114.47 L379.87,114.13 L380.10,113.80 L380.32,113.47 L380.55,113.15 L380.77,112.84 L381.00,112.53 L381.23,112.22 L381.45,111.91 L381.68,111.61 L381.91,111.31 L382.13,111.01 L382.35,110.71 L382.58,110.40 L382.80,110.10 L383.06,109.75 L383.32,109.41 L383.57,109.08 L383.83,108.75 L384.09,108.43 L384.34,108.12 L384.60,107.81 L384.85,107.50 L385.11,107.19 L385.36,106.89 L385.62,106.58 L385.87,106.27 L386.13,105.96 L386.38,105.64 L386.63,105.32 L386.89,104.99 L387.14,104.65 L387.40,104.30 L387.63,103.98 L387.86,103.65 L388.09,103.31 L388.33,102.97 L388.56,102.63 L388.80,102.28 L389.03,101.92 L389.26,101.57 L389.50,101.21 L389.73,100.85 L389.96,100.49 L390.20,100.13 L390.43,99.78 L390.66,99.42 L390.89,99.07 L391.11,98.73 L391.34,98.39 L391.56,98.05 L391.78,97.72 L392.00,97.40 L392.26,97.03 L392.51,96.65 L392.76,96.27 L393.01,95.90 L393.26,95.52 L393.51,95.15 L393.75,94.79 L394.00,94.43 L394.24,94.07 L394.48,93.73 L394.72,93.39 L394.95,93.06 L395.19,92.74 L395.42,92.44 L395.65,92.14 L395.88,91.86 L396.10,91.60 L396.45,91.22 L396.80,90.88 L397.16,90.56 L397.51,90.27 L397.86,90.01 L398.20,89.76 L398.52,89.53 L398.83,89.31 L399.11,89.10 L399.37,88.90 L399.60,88.70 L400.09,88.19 L400.42,87.77 L400.64,87.44 L400.80,87.20" fill="none" stroke="#000" stroke-width="2.1" stroke-linejoin="round" stroke-linecap="butt"/><path d="M339.10,157.08 L339.33,157.00 L339.62,157.38 L339.95,156.35 L340.32,157.35 L340.72,157.32 L341.15,156.29 L341.61,157.13 L342.08,156.76 L342.55,156.25 L343.03,156.06 L343.51,155.76 L343.97,155.21 L344.42,155.53 L344.84,156.01 L345.24,155.80 L345.60,155.03 L346.13,155.92 L346.62,154.90 L347.08,155.28 L347.52,155.90 L347.94,155.08 L348.35,155.85 L348.75,155.78 L349.16,155.82 L349.57,155.40 L350.00,156.00 L350.36,155.54 L350.72,156.40 L351.08,156.24 L351.44,157.00 L351.79,157.23 L352.15,157.81 L352.51,157.65 L352.86,157.62 L353.22,157.97 L353.58,158.14 L353.94,158.92 L354.30,158.94 L354.61,158.54 L354.92,158.94 L355.24,158.25 L355.55,158.19 L355.87,157.89 L356.18,157.83 L356.50,157.84 L356.82,157.83 L357.13,157.53 L357.45,156.82 L357.76,156.25 L358.08,156.09 L358.39,156.31 L358.70,155.38 L358.90,155.20 L359.09,155.23 L359.29,154.76 L359.49,154.30 L359.68,153.85 L359.87,153.55 L360.07,153.33 L360.26,153.16 L360.46,152.83 L360.65,152.14 L360.84,152.34 L361.04,151.94 L361.23,151.25 L361.43,151.11 L361.62,150.69 L361.82,150.52 L362.01,149.72 L362.21,149.10 L362.40,148.71 L362.60,148.98 L362.80,147.90 L363.00,147.83 L363.18,147.57 L363.36,147.01 L363.54,147.20 L363.72,146.82 L363.89,146.20 L364.07,145.38 L364.25,145.99 L364.42,144.97 L364.60,144.55 L364.77,144.55 L364.95,144.42 L365.13,143.67 L365.31,143.30 L365.49,142.91 L365.68,143.07 L365.86,142.15 L366.05,142.16 L366.25,141.49 L366.44,140.92 L366.65,140.37 L366.85,140.47 L367.06,140.13 L367.28,139.25 L367.50,138.97 L367.66,138.47 L367.83,138.80 L367.99,137.63 L368.17,138.01 L368.34,137.63 L368.52,137.05 L368.71,137.28 L368.89,136.05 L369.08,135.69 L369.27,135.62 L369.46,135.05 L369.65,134.37 L369.85,134.46 L370.04,133.95 L370.24,133.65 L370.44,132.93 L370.63,132.53 L370.83,132.46 L371.03,132.14 L371.22,131.20 L371.42,131.00 L371.61,130.74 L371.81,130.68 L372.00,130.47 L372.19,129.89 L372.37,129.45 L372.56,128.90 L372.74,128.32 L372.92,128.64 L373.09,128.11 L373.26,127.28 L373.43,127.53 L373.59,126.95 L373.75,126.48 L373.94,125.94 L374.12,125.24 L374.30,125.64 L374.47,124.35 L374.64,123.92 L374.80,123.56 L374.96,123.37 L375.12,122.81 L375.28,123.36 L375.43,123.10 L375.58,121.47 L375.73,121.62 L375.88,120.97 L376.02,121.38 L376.17,120.42 L376.31,120.50 L376.45,118.97 L376.60,119.91 L376.74,118.53 L376.89,118.51 L377.03,118.87 L377.18,118.27 L377.33,117.58 L377.48,117.07 L377.63,116.30 L377.78,116.21 L377.94,116.05 L378.10,116.09 L378.32,114.88 L378.53,114.27 L378.75,114.05 L378.97,113.72 L379.20,113.72 L379.42,113.07 L379.64,112.22 L379.87,112.29 L380.10,112.36 L380.32,111.51 L380.55,112.26 L380.77,111.54 L381.00,111.30 L381.23,110.88 L381.45,110.13 L381.68,108.98 L381.91,110.19 L382.13,109.92 L382.35,108.87 L382.58,108.30 L382.80,108.30 L383.06,108.02 L383.32,107.31 L383.57,107.41 L383.83,107.50 L384.09,106.54 L384.34,106.81 L384.60,106.43 L384.85,105.36 L385.11,104.95 L385.36,104.73 L385.62,104.16 L385.87,104.12 L386.13,103.66 L386.38,103.06 L386.63,102.89 L386.89,102.64 L387.14,101.90 L387.40,101.23 L387.63,101.94 L387.86,101.20 L388.09,100.48 L388.33,99.67 L388.56,101.19 L388.80,100.06 L389.03,99.46 L389.26,98.82 L389.50,99.07 L389.73,98.76 L389.96,98.95 L390.20,97.45 L390.43,97.50 L390.66,97.25 L390.89,96.98 L391.11,95.37 L391.34,96.77 L391.56,96.46 L391.78,94.83 L392.00,95.81 L392.26,95.42 L392.51,93.70 L392.76,94.05 L393.01,94.19 L393.26,92.03 L393.51,92.72 L393.75,92.62 L394.00,90.94 L394.24,91.78 L394.48,91.37 L394.72,90.08 L394.95,90.28 L395.19,89.21 L395.42,89.74 L395.65,88.38 L395.88,90.21 L396.10,89.90 L396.45,87.57 L396.80,89.01 L397.16,88.44 L397.51,87.47 L397.86,87.64 L398.20,87.00 L398.52,86.22 L398.83,85.69 L399.11,85.52 L399.37,84.92 L399.60,85.33 L400.09,85.53 L400.42,83.63 L400.64,85.32 L400.80,83.09 L400.80,89.05 L400.64,90.21 L400.42,90.34 L400.09,91.53 L399.60,92.55 L399.37,92.56 L399.11,95.07 L398.83,94.56 L398.52,93.57 L398.20,93.82 L397.86,94.87 L397.51,93.86 L397.16,94.00 L396.80,95.01 L396.45,93.70 L396.10,94.48 L395.88,96.08 L395.65,96.67 L395.42,95.72 L395.19,94.88 L394.95,96.19 L394.72,97.75 L394.48,96.14 L394.24,96.54 L394.00,96.58 L393.75,99.35 L393.51,98.48 L393.26,101.08 L393.01,99.39 L392.76,99.44 L392.51,98.71 L392.26,100.08 L392.00,100.01 L391.78,100.93 L391.56,100.95 L391.34,101.66 L391.11,101.16 L390.89,102.56 L390.66,104.29 L390.43,102.83 L390.20,103.14 L389.96,103.18 L389.73,104.90 L389.50,103.58 L389.26,104.51 L389.03,103.44 L388.80,104.89 L388.56,104.14 L388.33,107.22 L388.09,105.06 L387.86,106.53 L387.63,106.30 L387.40,107.49 L387.14,106.44 L386.89,109.28 L386.63,107.98 L386.38,107.84 L386.13,107.59 L385.87,107.95 L385.62,108.31 L385.36,110.44 L385.11,110.49 L384.85,110.55 L384.60,110.74 L384.34,111.61 L384.09,111.45 L383.83,110.40 L383.57,110.26 L383.32,111.15 L383.06,111.42 L382.80,112.12 L382.58,111.68 L382.35,112.04 L382.13,113.59 L381.91,113.30 L381.68,113.64 L381.45,114.46 L381.23,114.63 L381.00,114.04 L380.77,114.37 L380.55,115.00 L380.32,115.53 L380.10,116.21 L379.87,115.83 L379.64,116.29 L379.42,116.54 L379.20,115.92 L378.97,116.35 L378.75,117.77 L378.53,118.30 L378.32,118.56 L378.10,119.09 L377.94,119.48 L377.78,118.93 L377.63,119.67 L377.48,118.98 L377.33,119.56 L377.18,120.26 L377.03,120.95 L376.89,120.89 L376.74,121.08 L376.60,122.31 L376.45,122.62 L376.31,121.95 L376.17,122.82 L376.02,122.43 L375.88,123.01 L375.73,124.16 L375.58,124.82 L375.43,124.13 L375.28,124.78 L375.12,125.19 L374.96,125.35 L374.80,125.58 L374.64,126.09 L374.47,126.62 L374.30,127.58 L374.12,127.81 L373.94,128.25 L373.75,128.04 L373.59,128.66 L373.43,128.78 L373.26,129.03 L373.09,130.01 L372.92,130.46 L372.74,130.00 L372.56,131.48 L372.37,131.11 L372.19,132.09 L372.00,132.05 L371.81,133.01 L371.61,132.33 L371.42,133.31 L371.22,133.64 L371.03,134.13 L370.83,134.04 L370.63,135.32 L370.44,135.63 L370.24,135.33 L370.04,135.96 L369.85,136.07 L369.65,136.22 L369.46,137.57 L369.27,137.69 L369.08,137.40 L368.89,137.80 L368.71,138.87 L368.52,139.18 L368.34,138.76 L368.17,140.02 L367.99,139.94 L367.83,140.67 L367.66,140.71 L367.50,140.55 L367.28,141.78 L367.06,141.79 L366.85,142.26 L366.65,142.77 L366.44,143.35 L366.25,143.57 L366.05,143.88 L365.86,143.71 L365.68,143.90 L365.49,144.45 L365.31,145.43 L365.13,145.40 L364.95,145.43 L364.77,145.65 L364.60,145.98 L364.42,146.87 L364.25,147.51 L364.07,147.42 L363.89,147.62 L363.72,148.05 L363.54,148.42 L363.36,149.25 L363.18,149.47 L363.00,149.31 L362.80,150.23 L362.60,150.18 L362.40,150.47 L362.21,151.18 L362.01,151.14 L361.82,151.35 L361.62,152.32 L361.43,152.35 L361.23,152.56 L361.04,153.70 L360.84,154.01 L360.65,154.56 L360.46,154.24 L360.26,154.91 L360.07,155.74 L359.87,156.13 L359.68,156.04 L359.49,156.71 L359.29,157.09 L359.09,157.65 L358.90,157.52 L358.70,158.24 L358.39,157.89 L358.08,158.82 L357.76,159.59 L357.45,159.28 L357.13,159.72 L356.82,160.16 L356.50,161.04 L356.18,161.30 L355.87,160.93 L355.55,161.31 L355.24,161.45 L354.92,162.18 L354.61,161.81 L354.30,162.33 L353.94,162.13 L353.58,162.09 L353.22,161.32 L352.86,161.35 L352.51,160.94 L352.15,160.82 L351.79,160.20 L351.44,159.83 L351.08,159.35 L350.72,159.37 L350.36,159.05 L350.00,158.86 L349.57,158.57 L349.16,159.17 L348.75,158.94 L348.35,158.34 L347.94,158.42 L347.52,158.70 L347.08,159.30 L346.62,158.90 L346.13,159.62 L345.60,159.63 L345.24,159.70 L344.84,158.75 L344.42,159.17 L343.97,160.19 L343.51,159.57 L343.03,159.95 L342.55,159.79 L342.08,159.62 L341.61,160.16 L341.15,160.42 L340.72,161.09 L340.32,160.95 L339.95,159.94 L339.62,160.68 L339.33,160.75 L339.10,160.89Z" fill="#000"/>
<line x1="13.5" y1="255.6" x2="13.5" y2="341.55" stroke="#555" stroke-width="0.9"/>
<line x1="13.5" y1="341.25" x2="88.6" y2="341.25" stroke="#222" stroke-width="0.9"/>
<line x1="12.2" y1="263.6" x2="13.5" y2="263.6" stroke="#555" stroke-width="0.7"/>
<line x1="12.2" y1="282.6" x2="13.5" y2="282.6" stroke="#555" stroke-width="0.7"/>
<line x1="12.2" y1="302.0" x2="13.5" y2="302.0" stroke="#555" stroke-width="0.7"/>
<line x1="12.2" y1="321.6" x2="13.5" y2="321.6" stroke="#555" stroke-width="0.7"/>
<line x1="12.2" y1="340.9" x2="13.5" y2="340.9" stroke="#555" stroke-width="0.7"/>
<rect x="15" y="337.4" width="13.10" height="3.85" fill="#fff" stroke="#333" stroke-width="0.7"/>
<line x1="36.575" y1="273.5" x2="36.575" y2="263.5" stroke="#444" stroke-width="0.7"/><line x1="33.075" y1="263.5" x2="40.075" y2="263.5" stroke="#444" stroke-width="0.8"/>
<rect x="29.4" y="273.5" width="14.35" height="67.75" fill="url(#pv)" stroke="#333" stroke-width="0.7"/>
<line x1="51.25" y1="308.9" x2="51.25" y2="307.25" stroke="#444" stroke-width="0.7"/><line x1="48.05" y1="307.25" x2="54.45" y2="307.25" stroke="#444" stroke-width="0.8"/>
<rect x="44.4" y="308.9" width="13.70" height="32.35" fill="url(#ph)" stroke="#333" stroke-width="0.7"/>
<line x1="66.25" y1="281.25" x2="66.25" y2="276.25" stroke="#444" stroke-width="0.7"/><line x1="62.85" y1="276.25" x2="69.65" y2="276.25" stroke="#444" stroke-width="0.8"/>
<rect x="59.4" y="281.25" width="13.70" height="60.00" fill="url(#pd)" stroke="#333" stroke-width="0.7"/>
<rect x="74.5" y="272.9" width="13.50" height="68.35" fill="#000" stroke="#333" stroke-width="0.7"/>
<rect x="94.9" y="259.0" width="7.40" height="3.20" fill="#fff" stroke="#222" stroke-width="0.7"/>
<rect x="94.9" y="268.4" width="7.40" height="3.20" fill="url(#pv)" stroke="#222" stroke-width="0.7"/>
<rect x="94.9" y="277.15" width="7.40" height="3.20" fill="url(#ph)" stroke="#222" stroke-width="0.7"/>
<rect x="94.9" y="286.09999999999997" width="7.40" height="3.20" fill="url(#pd)" stroke="#222" stroke-width="0.7"/>
<rect x="94.9" y="295.0" width="7.40" height="3.20" fill="#000" stroke="#222" stroke-width="0.7"/>
<line x1="168.1" y1="258.3" x2="168.1" y2="342.6" stroke="#555" stroke-width="0.9"/>
<line x1="168.1" y1="342.3" x2="243.4" y2="342.3" stroke="#222" stroke-width="0.9"/>
<line x1="166.79999999999998" y1="258.6" x2="168.1" y2="258.6" stroke="#555" stroke-width="0.7"/>
<line x1="166.79999999999998" y1="279.5" x2="168.1" y2="279.5" stroke="#555" stroke-width="0.7"/>
<line x1="166.79999999999998" y1="300.4" x2="168.1" y2="300.4" stroke="#555" stroke-width="0.7"/>
<line x1="166.79999999999998" y1="321.3" x2="168.1" y2="321.3" stroke="#555" stroke-width="0.7"/>
<line x1="166.79999999999998" y1="342.0" x2="168.1" y2="342.0" stroke="#555" stroke-width="0.7"/>
<line x1="176.2" y1="335.4" x2="176.2" y2="334.2" stroke="#444" stroke-width="0.7"/><line x1="173.6" y1="334.2" x2="178.79999999999998" y2="334.2" stroke="#444" stroke-width="0.8"/>
<rect x="169.8" y="335.4" width="12.80" height="6.90" fill="#fff" stroke="#333" stroke-width="0.7"/>
<line x1="191.25" y1="275.25" x2="191.25" y2="273.1" stroke="#444" stroke-width="0.7"/><line x1="188.05" y1="273.1" x2="194.45" y2="273.1" stroke="#444" stroke-width="0.8"/>
<rect x="184.4" y="275.25" width="13.70" height="67.05" fill="url(#pvD)" stroke="#333" stroke-width="0.7"/>
<rect x="198.75" y="321.5" width="14.55" height="20.80" fill="url(#phD)" stroke="#333" stroke-width="0.7"/>
<line x1="221.05" y1="264.0" x2="221.05" y2="261.5" stroke="#444" stroke-width="0.7"/><line x1="217.45000000000002" y1="261.5" x2="224.65" y2="261.5" stroke="#444" stroke-width="0.8"/>
<rect x="214" y="264.0" width="14.10" height="78.30" fill="url(#pdD)" stroke="#333" stroke-width="0.7"/>
<line x1="235.625" y1="261.9" x2="235.625" y2="260.6" stroke="#444" stroke-width="0.7"/><line x1="232.625" y1="260.6" x2="238.625" y2="260.6" stroke="#444" stroke-width="0.8"/>
<rect x="228.75" y="261.9" width="13.75" height="80.40" fill="#000" stroke="#333" stroke-width="0.7"/>
<rect x="249.0" y="262.25" width="7.80" height="3.00" fill="#fff" stroke="#222" stroke-width="0.7"/>
<rect x="249.0" y="271.4" width="7.80" height="3.00" fill="url(#pvD)" stroke="#222" stroke-width="0.7"/>
<rect x="249.0" y="279.75" width="7.80" height="3.00" fill="url(#phD)" stroke="#222" stroke-width="0.7"/>
<rect x="249.0" y="288.5" width="7.80" height="3.00" fill="url(#pdD)" stroke="#222" stroke-width="0.7"/>
<rect x="249.0" y="297.25" width="7.80" height="3.00" fill="#000" stroke="#222" stroke-width="0.7"/>
<line x1="324.5" y1="258.3" x2="324.5" y2="342.90000000000003" stroke="#555" stroke-width="0.9"/>
<line x1="324.5" y1="342.6" x2="399.4" y2="342.6" stroke="#222" stroke-width="0.9"/>
<line x1="323.2" y1="258.6" x2="324.5" y2="258.6" stroke="#555" stroke-width="0.7"/>
<line x1="323.2" y1="279.6" x2="324.5" y2="279.6" stroke="#555" stroke-width="0.7"/>
<line x1="323.2" y1="300.6" x2="324.5" y2="300.6" stroke="#555" stroke-width="0.7"/>
<line x1="323.2" y1="321.6" x2="324.5" y2="321.6" stroke="#555" stroke-width="0.7"/>
<line x1="323.2" y1="342.3" x2="324.5" y2="342.3" stroke="#555" stroke-width="0.7"/>
<rect x="325.7" y="336.3" width="13.80" height="6.30" fill="#fff" stroke="#333" stroke-width="0.7"/>
<line x1="347.29999999999995" y1="275.3" x2="347.29999999999995" y2="272.8" stroke="#444" stroke-width="0.7"/><line x1="344.09999999999997" y1="272.8" x2="350.49999999999994" y2="272.8" stroke="#444" stroke-width="0.8"/>
<rect x="339.9" y="275.3" width="14.80" height="67.30" fill="url(#pgE)" stroke="#333" stroke-width="0.7"/>
<line x1="362.25" y1="305.2" x2="362.25" y2="304.6" stroke="#444" stroke-width="0.7"/><line x1="359.25" y1="304.6" x2="365.25" y2="304.6" stroke="#444" stroke-width="0.8"/>
<rect x="355.1" y="305.2" width="14.30" height="37.40" fill="url(#pvE)" stroke="#333" stroke-width="0.7"/>
<line x1="377.075" y1="314.5" x2="377.075" y2="314.0" stroke="#444" stroke-width="0.7"/><line x1="374.075" y1="314.0" x2="380.075" y2="314.0" stroke="#444" stroke-width="0.8"/>
<rect x="369.9" y="314.5" width="14.35" height="28.10" fill="url(#phE)" stroke="#333" stroke-width="0.7"/>
<line x1="391.8" y1="301.0" x2="391.8" y2="300.3" stroke="#444" stroke-width="0.7"/><line x1="388.8" y1="300.3" x2="394.8" y2="300.3" stroke="#444" stroke-width="0.8"/>
<rect x="385" y="301.0" width="13.60" height="41.60" fill="url(#pkE)" stroke="#333" stroke-width="0.7"/>
<rect x="405.4" y="261.8" width="7.10" height="3.40" fill="#fff" stroke="#222" stroke-width="0.7"/>
<rect x="405.4" y="270.8" width="7.10" height="3.40" fill="url(#pgE)" stroke="#222" stroke-width="0.7"/>
<rect x="405.4" y="279.6" width="7.10" height="3.40" fill="url(#pvE)" stroke="#222" stroke-width="0.7"/>
<rect x="405.4" y="288.6" width="7.10" height="3.40" fill="url(#phE)" stroke="#222" stroke-width="0.7"/>
<rect x="405.4" y="297.3" width="7.10" height="3.40" fill="url(#pkE)" stroke="#222" stroke-width="0.7"/>
<text x="0" y="0" font-family='"Liberation Sans", sans-serif' font-weight="bold" font-size="15.250" textLength="12.268" lengthAdjust="spacingAndGlyphs" fill="#000" transform="translate(7.645,11.000)">A</text>
<text x="0" y="0" font-family='"Liberation Sans", sans-serif' font-weight="bold" font-size="14.500" textLength="11.753" lengthAdjust="spacingAndGlyphs" fill="#000" transform="translate(253.050,11.000)">B</text>
<text x="0" y="0" font-family='"Liberation Sans", sans-serif' font-weight="bold" font-size="15.750" textLength="10.817" lengthAdjust="spacingAndGlyphs" fill="#000" transform="translate(0.155,253.000)">C</text>
<text x="0" y="0" font-family='"Liberation Sans", sans-serif' font-weight="bold" font-size="16.000" textLength="11.078" lengthAdjust="spacingAndGlyphs" fill="#000" transform="translate(151.915,253.000)">D</text>
<text x="0" y="0" font-family='"Liberation Sans", sans-serif' font-weight="bold" font-size="15.750" textLength="9.493" lengthAdjust="spacingAndGlyphs" fill="#000" transform="translate(308.145,253.000)">E</text>
<text x="0" y="0" font-family='"Liberation Serif", serif' font-weight="normal" font-size="9.000" textLength="73.932" lengthAdjust="spacingAndGlyphs" fill="#111" transform="translate(18.200,139.355) rotate(-90)">Light transmission</text>
<text x="0" y="0" font-family='"Liberation Serif", serif' font-weight="normal" font-size="10.500" textLength="33.862" lengthAdjust="spacingAndGlyphs" fill="#000" transform="translate(107.180,206.000)">Time (s)</text>
<text x="0" y="0" font-family='"Liberation Serif", serif' font-weight="normal" font-size="10.500" textLength="34.460" lengthAdjust="spacingAndGlyphs" fill="#000" transform="translate(328.475,206.000)">Time (s)</text>
<text x="0" y="0" font-family='"Liberation Serif", serif' font-weight="normal" font-size="9.500" textLength="28.260" lengthAdjust="spacingAndGlyphs" fill="#000" stroke="#000" stroke-width="0.1" transform="translate(172.330,28.375)">Control</text>
<text x="0" y="0" font-family='"Liberation Serif", serif' font-weight="normal" font-size="9.500" textLength="43.457" lengthAdjust="spacingAndGlyphs" fill="#000" stroke="#000" stroke-width="0.1" transform="translate(166.655,141.290)">Clopidogrel</text>
<text x="0" y="0" font-family='"Liberation Serif", serif' font-weight="normal" font-size="9.500" textLength="56.440" lengthAdjust="spacingAndGlyphs" fill="#000" stroke="#000" stroke-width="0.1" transform="translate(170.375,168.035)">AR-C69931MX</text>
<text x="0" y="0" font-family='"Liberation Serif", serif' font-weight="normal" font-size="8.600" textLength="28.059" lengthAdjust="spacingAndGlyphs" fill="#000" stroke="#000" stroke-width="0.1" transform="translate(407.105,22.195)">Control</text>
<text x="0" y="0" font-family='"Liberation Serif", serif' font-weight="normal" font-size="8.800" textLength="43.168" lengthAdjust="spacingAndGlyphs" fill="#000" stroke="#000" stroke-width="0.1" transform="translate(404.280,67.015)">Clopidogrel</text>
<text x="0" y="0" font-family='"Liberation Serif", serif' font-weight="normal" font-size="8.800" textLength="56.404" lengthAdjust="spacingAndGlyphs" fill="#000" stroke="#000" stroke-width="0.1" transform="translate(409.570,93.290)">AR-C69931MX</text>
<text x="0" y="0" font-family='"Liberation Serif", serif' font-weight="normal" font-size="7.500" textLength="32.117" lengthAdjust="spacingAndGlyphs" fill="#000" stroke="#000" stroke-width="0.1" transform="translate(79.585,100.930) rotate(-90)">Fibrinogen</text>
<text x="0" y="0" font-family='"Liberation Serif", serif' font-weight="normal" font-size="7.400" textLength="42.636" lengthAdjust="spacingAndGlyphs" fill="#000" stroke="#000" stroke-width="0.1" transform="translate(91.580,95.065) rotate(-90)">ADP/Collagen</text>
<text x="0" y="0" font-family='"Liberation Serif", serif' font-weight="normal" font-size="7.200" textLength="31.196" lengthAdjust="spacingAndGlyphs" fill="#000" stroke="#000" stroke-width="0.1" transform="translate(326.900,98.680) rotate(-90)">Fibrinogen</text>
<text x="0" y="0" font-family='"Liberation Serif", serif' font-weight="normal" font-size="7.000" textLength="60.335" lengthAdjust="spacingAndGlyphs" fill="#000" stroke="#000" stroke-width="0.1" transform="translate(337.970,93.885) rotate(-90)">Adrenaline/Collagen</text>
<text x="0" y="0" font-family='"Liberation Serif", serif' font-weight="normal" font-size="5.600" textLength="6.511" lengthAdjust="spacingAndGlyphs" fill="#000" stroke="#000" stroke-width="0.15" transform="translate(5.780,265.250)">200</text>
<text x="0" y="0" font-family='"Liberation Serif", serif' font-weight="normal" font-size="5.600" textLength="6.712" lengthAdjust="spacingAndGlyphs" fill="#000" stroke="#000" stroke-width="0.15" transform="translate(5.325,284.365)">150</text>
<text x="0" y="0" font-family='"Liberation Serif", serif' font-weight="normal" font-size="5.600" textLength="6.745" lengthAdjust="spacingAndGlyphs" fill="#000" stroke="#000" stroke-width="0.15" transform="translate(5.325,303.960)">100</text>
<text x="0" y="0" font-family='"Liberation Serif", serif' font-weight="normal" font-size="5.600" textLength="4.192" lengthAdjust="spacingAndGlyphs" fill="#000" stroke="#000" stroke-width="0.15" transform="translate(7.790,323.360)">50</text>
<text x="0" y="0" font-family='"Liberation Serif", serif' font-weight="normal" font-size="5.600" textLength="2.163" lengthAdjust="spacingAndGlyphs" fill="#000" stroke="#000" stroke-width="0.15" transform="translate(10.210,342.440)">0</text>
<text x="0" y="0" font-family='"Liberation Serif", serif' font-weight="normal" font-size="7.000" textLength="9.576" lengthAdjust="spacingAndGlyphs" fill="#000" stroke="#000" stroke-width="0.2" transform="translate(102.380,262.675)">Basal</text>
<text x="0" y="0" font-family='"Liberation Serif", serif' font-weight="normal" font-size="7.000" textLength="10.628" lengthAdjust="spacingAndGlyphs" fill="#000" stroke="#000" stroke-width="0.2" transform="translate(102.185,272.075)">PGE₁</text>
<text x="0" y="0" font-family='"Liberation Serif", serif' font-weight="normal" font-size="7.000" textLength="9.027" lengthAdjust="spacingAndGlyphs" fill="#000" stroke="#000" stroke-width="0.2" transform="translate(102.580,280.265)">ADP</text>
<text x="0" y="0" font-family='"Liberation Serif", serif' font-weight="normal" font-size="7.000" textLength="37.571" lengthAdjust="spacingAndGlyphs" fill="#000" stroke="#000" stroke-width="0.2" transform="translate(102.620,290.125)">+ ADP/AR-C69931MX</text>
<text x="0" y="0" font-family='"Liberation Serif", serif' font-weight="normal" font-size="7.000" textLength="33.581" lengthAdjust="spacingAndGlyphs" fill="#000" stroke="#000" stroke-width="0.2" transform="translate(102.380,298.250)">+ ADP/clopidogrel</text>
<text x="0" y="0" font-family='"Liberation Serif", serif' font-weight="normal" font-size="4.400" textLength="66.500" lengthAdjust="spacingAndGlyphs" fill="#333" transform="translate(2.780,327.155) rotate(-90)">cAMP (pmoles/10⁸ platelets)</text>
<text x="0" y="0" font-family='"Liberation Serif", serif' font-weight="normal" font-size="5.400" textLength="6.252" lengthAdjust="spacingAndGlyphs" fill="#000" stroke="#000" stroke-width="0.15" transform="translate(160.215,259.495)">320</text>
<text x="0" y="0" font-family='"Liberation Serif", serif' font-weight="normal" font-size="5.400" textLength="5.831" lengthAdjust="spacingAndGlyphs" fill="#000" stroke="#000" stroke-width="0.15" transform="translate(160.465,281.150)">240</text>
<text x="0" y="0" font-family='"Liberation Serif", serif' font-weight="normal" font-size="5.400" textLength="6.644" lengthAdjust="spacingAndGlyphs" fill="#000" stroke="#000" stroke-width="0.15" transform="translate(159.925,301.660)">160</text>
<text x="0" y="0" font-family='"Liberation Serif", serif' font-weight="normal" font-size="5.400" textLength="4.060" lengthAdjust="spacingAndGlyphs" fill="#000" stroke="#000" stroke-width="0.15" transform="translate(162.330,322.330)">80</text>
<text x="0" y="0" font-family='"Liberation Serif", serif' font-weight="normal" font-size="5.400" textLength="1.761" lengthAdjust="spacingAndGlyphs" fill="#000" stroke="#000" stroke-width="0.15" transform="translate(164.685,343.100)">0</text>
<text x="0" y="0" font-family='"Liberation Serif", serif' font-weight="normal" font-size="7.000" textLength="7.216" lengthAdjust="spacingAndGlyphs" fill="#000" stroke="#000" stroke-width="0.25" transform="translate(257.455,266.075)">Basal</text>
<text x="0" y="0" font-family='"Liberation Serif", serif' font-weight="normal" font-size="7.000" textLength="9.236" lengthAdjust="spacingAndGlyphs" fill="#000" stroke="#000" stroke-width="0.25" transform="translate(257.200,273.930)">PGE₁</text>
<text x="0" y="0" font-family='"Liberation Serif", serif' font-weight="normal" font-size="7.000" textLength="22.914" lengthAdjust="spacingAndGlyphs" fill="#000" stroke="#000" stroke-width="0.25" transform="translate(257.675,282.805)">+ ADP/collagen</text>
<text x="0" y="0" font-family='"Liberation Serif", serif' font-weight="normal" font-size="7.000" textLength="47.621" lengthAdjust="spacingAndGlyphs" fill="#000" stroke="#000" stroke-width="0.25" transform="translate(257.290,291.810)">+ ADP/collagen/AR-C69931MX</text>
<text x="0" y="0" font-family='"Liberation Serif", serif' font-weight="normal" font-size="7.000" textLength="41.171" lengthAdjust="spacingAndGlyphs" fill="#000" stroke="#000" stroke-width="0.25" transform="translate(257.610,299.735)">+ ADP/collagen/clopidogrel</text>
<text x="0" y="0" font-family='"Liberation Serif", serif' font-weight="bold" font-size="5.600" textLength="75.800" lengthAdjust="spacingAndGlyphs" fill="#111" transform="translate(157.645,337.120) rotate(-90)">cAMP (pmoles/10⁸ platelets)</text>
<text x="0" y="0" font-family='"Liberation Serif", serif' font-weight="normal" font-size="5.400" textLength="6.566" lengthAdjust="spacingAndGlyphs" fill="#000" stroke="#000" stroke-width="0.15" transform="translate(316.670,259.475)">320</text>
<text x="0" y="0" font-family='"Liberation Serif", serif' font-weight="normal" font-size="5.400" textLength="6.565" lengthAdjust="spacingAndGlyphs" fill="#000" stroke="#000" stroke-width="0.15" transform="translate(316.545,280.525)">240</text>
<text x="0" y="0" font-family='"Liberation Serif", serif' font-weight="normal" font-size="5.400" textLength="6.330" lengthAdjust="spacingAndGlyphs" fill="#000" stroke="#000" stroke-width="0.15" transform="translate(316.445,301.510)">160</text>
<text x="0" y="0" font-family='"Liberation Serif", serif' font-weight="normal" font-size="5.400" textLength="4.738" lengthAdjust="spacingAndGlyphs" fill="#000" stroke="#000" stroke-width="0.15" transform="translate(318.420,322.535)">80</text>
<text x="0" y="0" font-family='"Liberation Serif", serif' font-weight="normal" font-size="5.400" textLength="2.247" lengthAdjust="spacingAndGlyphs" fill="#000" stroke="#000" stroke-width="0.15" transform="translate(320.960,343.220)">0</text>
<text x="0" y="0" font-family='"Liberation Serif", serif' font-weight="normal" font-size="7.200" textLength="9.458" lengthAdjust="spacingAndGlyphs" fill="#000" stroke="#000" stroke-width="0.25" transform="translate(413.360,266.240)">Basal</text>
<text x="0" y="0" font-family='"Liberation Serif", serif' font-weight="normal" font-size="7.200" textLength="11.297" lengthAdjust="spacingAndGlyphs" fill="#000" stroke="#000" stroke-width="0.25" transform="translate(413.175,275.410)">PGE₁</text>
<text x="0" y="0" font-family='"Liberation Serif", serif' font-weight="normal" font-size="7.200" textLength="37.621" lengthAdjust="spacingAndGlyphs" fill="#000" stroke="#000" stroke-width="0.25" transform="translate(413.535,283.745)">+ adrenaline/collagen</text>
<text x="0" y="0" font-family='"Liberation Serif", serif' font-weight="normal" font-size="7.200" textLength="64.541" lengthAdjust="spacingAndGlyphs" fill="#000" stroke="#000" stroke-width="0.25" transform="translate(413.515,291.930)">+ adrenaline/collagen/AR-C69931MX</text>
<text x="0" y="0" font-family='"Liberation Serif", serif' font-weight="normal" font-size="7.200" textLength="58.852" lengthAdjust="spacingAndGlyphs" fill="#000" stroke="#000" stroke-width="0.25" transform="translate(413.455,301.270)">+ adrenaline/collagen/clopidogrel</text>
<text x="0" y="0" font-family='"Liberation Serif", serif' font-weight="bold" font-size="5.600" textLength="75.800" lengthAdjust="spacingAndGlyphs" fill="#111" transform="translate(315.365,337.710) rotate(-90)">cAMP (pmoles/10⁸ platelets)</text>
</svg>
</body></html>
